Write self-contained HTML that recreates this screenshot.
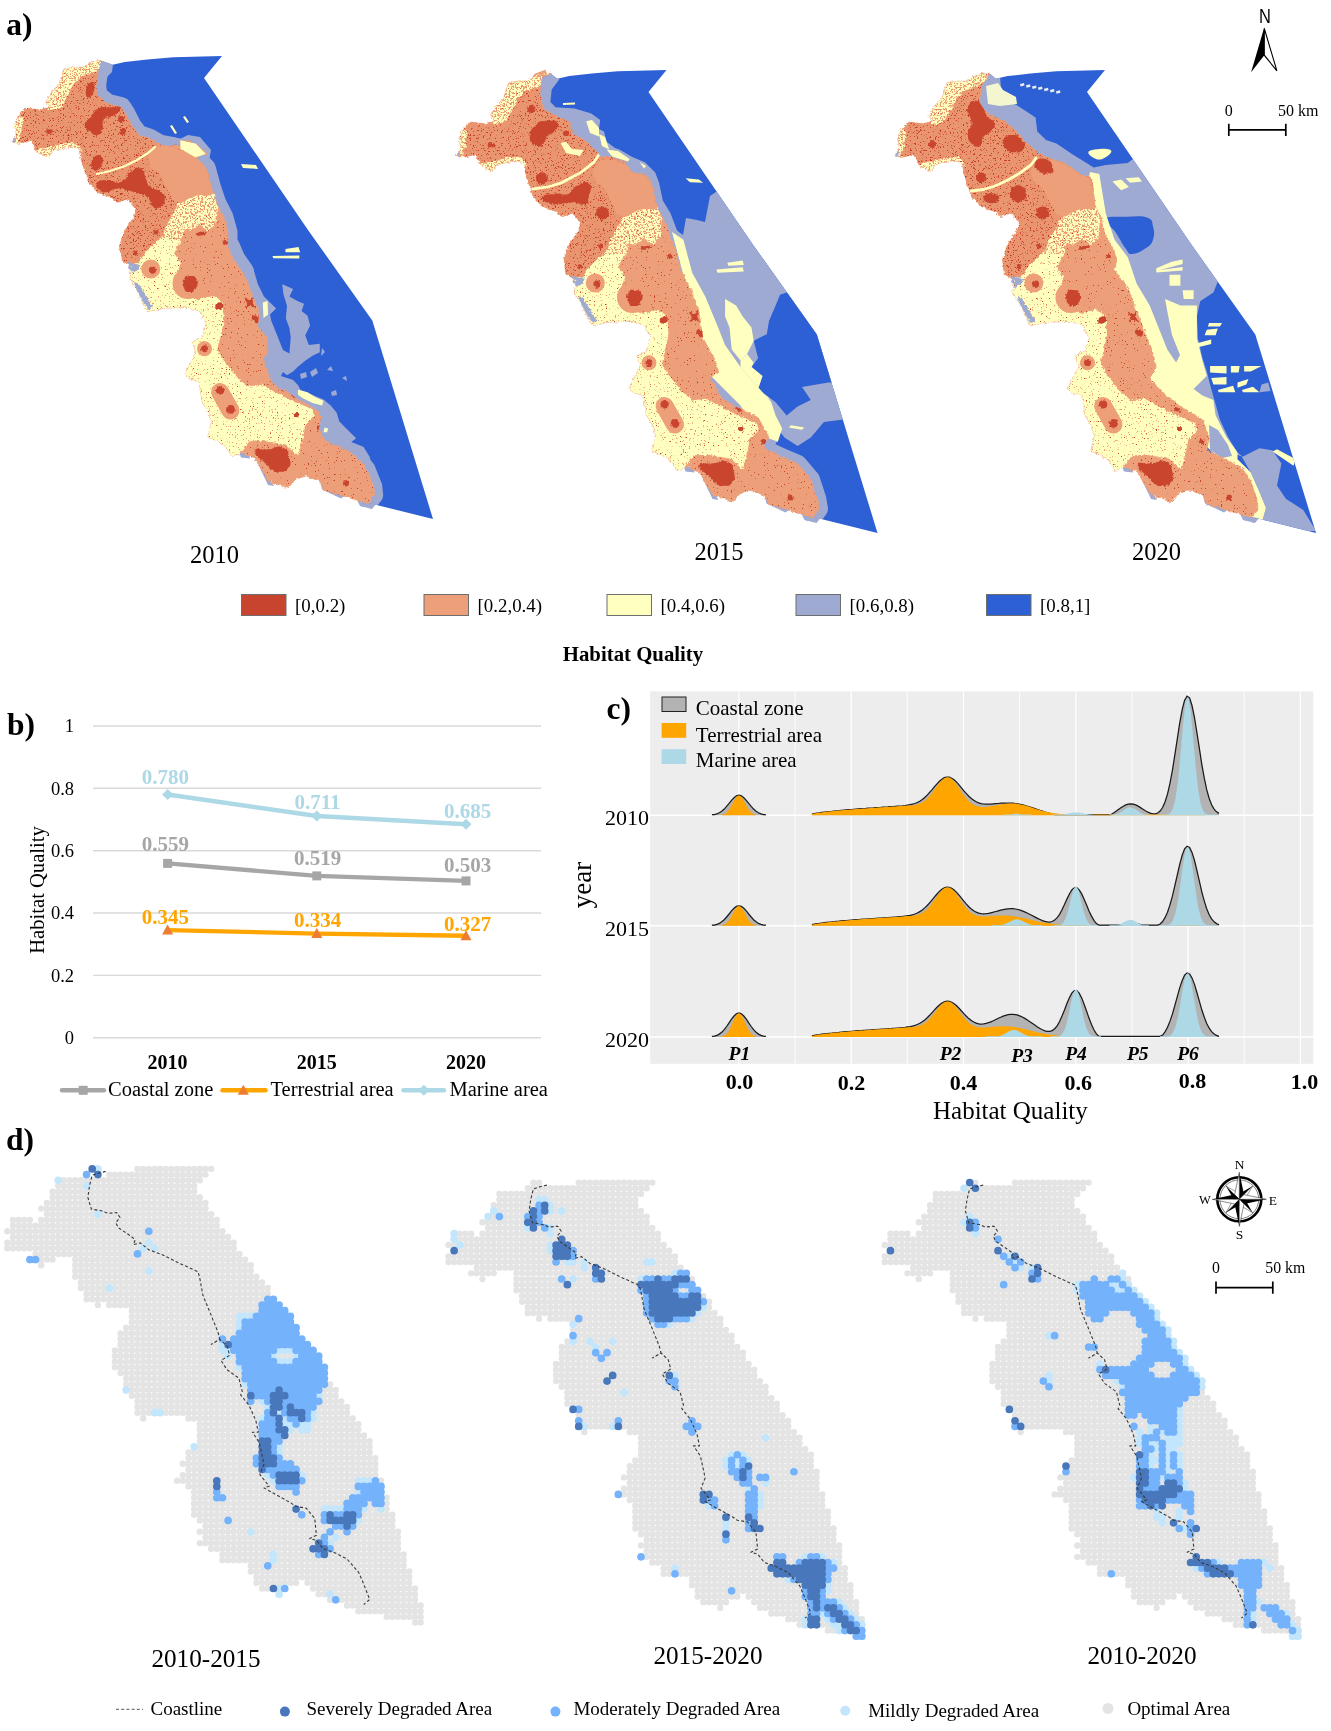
<!DOCTYPE html>
<html><head><meta charset="utf-8"><title>Habitat Quality</title>
<style>
html,body{margin:0;padding:0;background:#fff;}
body{width:1331px;height:1731px;overflow:hidden;font-family:"Liberation Serif",serif;}
svg{display:block;font-family:"Liberation Serif",serif;}
</style></head><body>
<svg width="1331" height="1731" viewBox="0 0 1331 1731">
<defs>
<filter id="spkD" x="0" y="0" width="100%" height="100%" color-interpolation-filters="sRGB"><feTurbulence type="fractalNoise" baseFrequency="0.6" numOctaves="2" seed="7"/><feColorMatrix type="matrix" values="0 0 0 0 0.78  0 0 0 0 0.25  0 0 0 0 0.17  16 0 0 0 -10.3"/></filter>
<filter id="spkS" x="0" y="0" width="100%" height="100%" color-interpolation-filters="sRGB"><feTurbulence type="fractalNoise" baseFrequency="0.7" numOctaves="2" seed="11"/><feColorMatrix type="matrix" values="0 0 0 0 0.78  0 0 0 0 0.25  0 0 0 0 0.17  20 0 0 0 -14.3"/></filter>
<filter id="spkO" x="0" y="0" width="100%" height="100%" color-interpolation-filters="sRGB"><feTurbulence type="fractalNoise" baseFrequency="0.65" numOctaves="2" seed="23"/><feColorMatrix type="matrix" values="0 0 0 0 0.92  0 0 0 0 0.6  0 0 0 0 0.45  14 0 0 0 -9.4"/></filter>
<filter id="spkO2" x="0" y="0" width="100%" height="100%" color-interpolation-filters="sRGB"><feTurbulence type="fractalNoise" baseFrequency="0.55" numOctaves="2" seed="5"/><feColorMatrix type="matrix" values="0 0 0 0 0.92  0 0 0 0 0.6  0 0 0 0 0.45  12 0 0 0 -6.3"/></filter>
<filter id="spkR" x="0" y="0" width="100%" height="100%" color-interpolation-filters="sRGB"><feTurbulence type="fractalNoise" baseFrequency="0.75" numOctaves="2" seed="41"/><feColorMatrix type="matrix" values="0 0 0 0 0.78  0 0 0 0 0.25  0 0 0 0 0.17  22 0 0 0 -16.6"/></filter>
<filter id="rough2" x="-5%" y="-5%" width="110%" height="110%"><feTurbulence type="fractalNoise" baseFrequency="0.5" numOctaves="2" seed="9" result="t"/><feDisplacementMap in="SourceGraphic" in2="t" scale="3.2" xChannelSelector="R" yChannelSelector="G"/></filter>
<filter id="rough" x="-5%" y="-5%" width="110%" height="110%"><feTurbulence type="fractalNoise" baseFrequency="0.35" numOctaves="2" seed="3" result="t"/><feDisplacementMap in="SourceGraphic" in2="t" scale="4" xChannelSelector="R" yChannelSelector="G"/></filter>
</defs>
<defs><clipPath id="lc1"><polygon points="100.5,60.4 97.9,72.5 96.2,84.7 97.1,95.1 107.5,103.7 121.3,107.2 125.6,114.1 131.7,126.3 138.6,134.9 149,138.4 159.4,144.5 173.3,147.1 180.2,148.8 180.2,140.1 195.8,143.6 206.2,154 195.8,157.5 206.2,167.9 211.4,186.9 216.6,202.5 223.6,216.4 228,232 228,247 233.6,260 242.1,272.1 248.2,284.3 254.3,300 259.1,312.2 257.9,325.5 266.4,337.6 267.6,352.2 262.8,360.7 266.4,369.2 271.2,381.3 278.5,388.6 288.2,392.2 297.9,399.5 308.8,405.6 317.3,410.4 322.2,416.5 318.5,429.8 324.6,439.5 330.7,444.4 339.2,446.8 351.3,452.9 358.6,458.9 366.9,469.2 373.8,486.5 374.7,495.2 368.6,503 368.6,503 358.2,500.4 340.9,495.2 323.6,490 320.1,481.3 306.3,476.1 296.4,478.8 287.7,488.3 279,484 268.6,481.4 261.7,470.1 254.8,458 242.7,452.8 232.3,456.2 225.3,445.8 216.7,440.6 208,437.2 211.5,421.6 208,411.2 201.9,400.8 199.3,381.7 188.9,378.2 184.6,374.8 190.7,362.7 195.9,352.3 192.4,341.9 202.8,336.7 206.3,322.8 199.3,310.7 187.2,307.2 164.7,308.1 147.3,311.5 142.1,300.3 136.9,289.9 130,278.8 131.7,266.6 121.3,259.7 119.6,245.8 124.8,230.2 133.4,218.1 136.9,209.4 128.2,199 117.9,202.5 110.9,197.3 97.1,192.1 88.4,181.7 84.9,171.3 81.5,160.9 78.9,147.9 69.3,147.1 52,150.5 48.5,157.5 37.3,152.3 31.2,140.1 19.1,143.6 12.1,141.9 16.5,133.2 14.7,124.5 18.2,115.9 26,108.1 39.9,109.8 50.3,107.2 45.9,102 52,91.6 58.9,84.7 64.1,69.1 74.5,67.3 83.2,67.3 91.9,62.1 100.5,60.4"/></clipPath><clipPath id="sc1"><polygon points="100.5,60.4 112.7,64.7 124.8,62.1 147.3,59.5 173.3,57.3 222,56 204,78 308,230 372.3,320.5 433,519 368.6,503 361.6,507 367.7,499.2 366.8,490.5 359.9,473.2 351.6,462.9 344.3,456.9 332.2,450.8 323.7,448.4 317.6,443.5 311.5,433.8 315.2,420.5 310.3,414.4 301.8,409.6 290.9,403.5 281.2,396.2 271.5,392.6 264.2,385.3 259.4,373.2 255.8,364.7 260.6,356.2 259.4,341.6 250.9,329.5 252.1,316.2 247.3,304 241.2,288.3 235.1,276.1 226.6,264 221,251 221,236 216.6,220.4 209.6,206.5 204.4,190.9 199.2,171.9 188.8,161.5 199.2,158 188.8,147.6 173.2,144.1 173.2,152.8 166.3,151.1 152.4,148.5 142,142.4 131.6,138.9 124.7,130.3 118.6,118.1 114.3,111.2 100.5,107.7 90.1,99.1 89.2,88.7 90.9,76.5 93.5,64.4"/></clipPath>
<clipPath id="yc1"><polygon points="213.2,193.8 216.6,206 214.9,223.3 208,230.2 199.3,223.3 190.6,230.2 183.7,228.5 180.2,240.6 173.3,252.8 180.2,263.2 176,275 178,295 199.3,300.3 213.2,296.1 221.9,302 223.6,319.3 220.1,336.7 216.7,350.5 223.6,360.9 237.5,378.2 247.9,386.9 261.7,385.2 277.3,393.8 294.6,402.5 312,409.4 313.7,416.4 305,425 301.6,440.6 298.1,454.5 286,444.1 265.2,440.6 249.6,440.6 240.9,451 235,462 225,452 214,445 203,440 205,421.6 202,411.2 196,400.8 193,385 183,381 178,375 185,362.7 189,352.3 186,340 196,334 200,322.8 195,314 187.2,312 164.7,314 143,317 136,300.3 131,289.9 124,278.8 125,266.6 128.2,264.9 138.6,263.2 145.6,252.8 152.5,245.8 162.9,237.2 166.4,226.8 173.3,214.6 178.5,204.2 190.6,197.3 204.5,192.1"/><polygon points="104,60 104,63.9 93.6,72.5 81.5,76 72.8,84.7 67.6,95.1 60.7,107.2 52,110 42,104 48,91.6 55,84.7 60,66 74.5,63 83.2,63 91.9,58"/><polygon points="18.2,113 22.5,119.3 20.8,131.5 17.3,140.1 22,146 8,146 10,133 10,124.5"/><polygon points="33,152.3 48.5,161 55,154 69.3,151 82,151 76.3,143.6 65.9,143.6 52,147.1 43.3,148.8"/></clipPath></defs>
<polyline points="97.5,62.4 94.9,74.5 93.2,86.7 94.1,97.1 104.5,105.7 118.3,109.2 122.6,116.1 128.7,128.3 135.6,136.9 146,140.4 156.4,146.5 170.3,149.1 177.2,150.8 177.2,142.1 192.8,145.6 203.2,156 192.8,159.5 203.2,169.9 208.4,188.9 213.6,204.5 220.6,218.4 225,234 225,249 230.6,262 239.1,274.1 245.2,286.3 251.3,302 256.1,314.2 254.9,327.5 263.4,339.6 264.6,354.2 259.8,362.7 263.4,371.2 268.2,383.3 275.5,390.6 285.2,394.2 294.9,401.5 305.8,407.6 314.3,412.4 319.2,418.5 315.5,431.8 321.6,441.5 327.7,446.4 336.2,448.8 348.3,454.9 355.6,460.9 363.9,471.2 370.8,488.5 371.7,497.2 365.6,505" fill="none" stroke="#ec9f78" stroke-width="12" stroke-linejoin="round"/>
<polygon points="100.5,60.4 112.7,64.7 124.8,62.1 147.3,59.5 173.3,57.3 222,56 204,78 308,230 372.3,320.5 433,519 368.6,503 361.6,507 367.7,499.2 366.8,490.5 359.9,473.2 351.6,462.9 344.3,456.9 332.2,450.8 323.7,448.4 317.6,443.5 311.5,433.8 315.2,420.5 310.3,414.4 301.8,409.6 290.9,403.5 281.2,396.2 271.5,392.6 264.2,385.3 259.4,373.2 255.8,364.7 260.6,356.2 259.4,341.6 250.9,329.5 252.1,316.2 247.3,304 241.2,288.3 235.1,276.1 226.6,264 221,251 221,236 216.6,220.4 209.6,206.5 204.4,190.9 199.2,171.9 188.8,161.5 199.2,158 188.8,147.6 173.2,144.1 173.2,152.8 166.3,151.1 152.4,148.5 142,142.4 131.6,138.9 124.7,130.3 118.6,118.1 114.3,111.2 100.5,107.7 90.1,99.1 89.2,88.7 90.9,76.5 93.5,64.4" fill="#2d60d4" />
<g clip-path="url(#sc1)">
<polyline points="100.5,60.4 97.9,72.5 96.2,84.7 97.1,95.1 107.5,103.7 121.3,107.2 125.6,114.1 131.7,126.3 138.6,134.9 149,138.4 159.4,144.5 173.3,147.1 180.2,148.8" fill="none" stroke="#9eaad2" stroke-width="20" stroke-linejoin="round" stroke-linecap="round"/>
<polygon points="100,58 113,64 112,72 104,80 104,96 96,96 94,70" fill="#9eaad2" />
<polyline points="195.8,157.5 206.2,167.9 211.4,186.9 216.6,202.5 223.6,216.4 228,232 228,247" fill="none" stroke="#9eaad2" stroke-width="19" stroke-linejoin="round" stroke-linecap="round"/>
<polyline points="228,247 233.6,260 242.1,272.1" fill="none" stroke="#9eaad2" stroke-width="24" stroke-linejoin="round" stroke-linecap="round"/>
<polyline points="351.3,452.9 358.6,458.9 366.9,469.2 373.8,486.5 374.7,495.2 368.6,503" fill="none" stroke="#9eaad2" stroke-width="17" stroke-linejoin="round" stroke-linecap="round"/>
<polygon points="240,250 245.8,258 254.3,272.1 257.9,284.3 264,296.4 268.8,301.2 276.1,308.5 270,314.6 271.2,320.6 275,330 279,340 283,350 289.4,353.4 290.7,337.6 289.4,327.9 285.8,318.2 287,306.1 283.4,294 282.2,284.3 293.1,289.1 289.4,296.4 297.9,301.2 304,303.7 301.6,310.9 307.6,315.8 310.1,325.5 305.2,335.2 308.8,344.9 319.8,343.7 319.8,352.2 312.5,355.8 305.2,360.7 297.9,366.7 293.1,371.6 287,375.2 283,372 281,376 293.1,380.1 297.9,384.9 300.4,389.8 323.4,399.5 330.7,405.6 336.7,412.8 339.2,421.3 345.2,427.4 356.2,438.3 351.3,441.9 363.4,446.8 369.5,456.5 371.9,466.2 350,460 320,440 300,410 260,380 250,330 230,270" fill="#9eaad2" />
<polygon points="300,352 304,356 299,360 296,357" fill="#9eaad2" />
<polygon points="322,348 325,352 321,356" fill="#9eaad2" />
<polygon points="310,372 316,368 318,373 312,377" fill="#9eaad2" />
<polygon points="327,370 331,366 333,371" fill="#9eaad2" />
<polygon points="300,374 306,372 307,377 301,379" fill="#9eaad2" />
<polygon points="342,378 346,376 347,381" fill="#9eaad2" />
<polygon points="331,392 336,390 337,395 332,396" fill="#9eaad2" />
<polygon points="180,139 188,135 200,137 211,150 209,161 198,163" fill="#9eaad2" />
<polygon points="285.5,249 298.5,247 300.2,252.2 285.5,252.2" fill="#ffffbf" />
<polygon points="272.5,256 299.3,255.6 299.3,258.6 273.3,258.2" fill="#ffffbf" />
<polygon points="241,164 256,165 258,169 243,168" fill="#ffffbf" />
<polygon points="297.9,389.8 307.6,392.2 314.9,397.1 323.4,400.7 322.2,405.6 312.5,403.1 302.8,398.3 297.9,394.7" fill="#ffffbf" />
<polygon points="262.8,302.5 267.6,301 268,314.6 263.5,318" fill="#ffffbf" />
<polygon points="324.6,427.4 328.3,428.6 327,432.2 323.4,432.2" fill="#ffffbf" />
<polygon points="183,117 185,116 189,122 187,123" fill="#ffffbf" />
<polygon points="170,126 172,125 177,133 175,134" fill="#ffffbf" />
</g>
<polygon points="239,452 249,454 250,458.5 241,457.5" fill="#9eaad2" />
<polygon points="258,464 263,467 271,481 274,486 268,485" fill="#9eaad2" />
<polygon points="320,481 327,483 345,495.5 341,498.5 322,489.5" fill="#9eaad2" />
<polygon points="356,498 366,503 376,504 372,509 360,506" fill="#9eaad2" />
<polygon points="130,262 128,268 133,272" fill="#9eaad2" />
<g filter="url(#rough)">
<polygon points="100.5,60.4 97.9,72.5 96.2,84.7 97.1,95.1 107.5,103.7 121.3,107.2 125.6,114.1 131.7,126.3 138.6,134.9 149,138.4 159.4,144.5 173.3,147.1 180.2,148.8 180.2,140.1 195.8,143.6 206.2,154 195.8,157.5 206.2,167.9 211.4,186.9 216.6,202.5 223.6,216.4 228,232 228,247 233.6,260 242.1,272.1 248.2,284.3 254.3,300 259.1,312.2 257.9,325.5 266.4,337.6 267.6,352.2 262.8,360.7 266.4,369.2 271.2,381.3 278.5,388.6 288.2,392.2 297.9,399.5 308.8,405.6 317.3,410.4 322.2,416.5 318.5,429.8 324.6,439.5 330.7,444.4 339.2,446.8 351.3,452.9 358.6,458.9 366.9,469.2 373.8,486.5 374.7,495.2 368.6,503 368.6,503 358.2,500.4 340.9,495.2 323.6,490 320.1,481.3 306.3,476.1 296.4,478.8 287.7,488.3 279,484 268.6,481.4 261.7,470.1 254.8,458 242.7,452.8 232.3,456.2 225.3,445.8 216.7,440.6 208,437.2 211.5,421.6 208,411.2 201.9,400.8 199.3,381.7 188.9,378.2 184.6,374.8 190.7,362.7 195.9,352.3 192.4,341.9 202.8,336.7 206.3,322.8 199.3,310.7 187.2,307.2 164.7,308.1 147.3,311.5 142.1,300.3 136.9,289.9 130,278.8 131.7,266.6 121.3,259.7 119.6,245.8 124.8,230.2 133.4,218.1 136.9,209.4 128.2,199 117.9,202.5 110.9,197.3 97.1,192.1 88.4,181.7 84.9,171.3 81.5,160.9 78.9,147.9 69.3,147.1 52,150.5 48.5,157.5 37.3,152.3 31.2,140.1 19.1,143.6 12.1,141.9 16.5,133.2 14.7,124.5 18.2,115.9 26,108.1 39.9,109.8 50.3,107.2 45.9,102 52,91.6 58.9,84.7 64.1,69.1 74.5,67.3 83.2,67.3 91.9,62.1 100.5,60.4" fill="#ec9f78" stroke="#ec9f78" stroke-width="0.8" stroke-linejoin="round"/>
<g clip-path="url(#lc1)">
<polygon points="0,50 240,50 240,185 205,192 180,203 167,226 150,248 128,266 110,270 0,270" fill="#e9966f" />
<path d="M110 225C126.7 206.7 140.7 206.7 160 215C179.3 223.3 171.3 230 168 250C164.7 270 162.7 258.3 150 275C137.3 291.7 143.3 301.7 130 300C116.7 298.3 116.7 295 110 270C103.3 245 93.3 243.3 110 225Z" fill="#e9966f" />
</g></g>
<defs><clipPath id="nc1"><polygon points="0,50 240,50 240,185 205,192 180,203 167,226 150,248 128,266 110,270 0,270"/></clipPath></defs>
<g clip-path="url(#lc1)">
<rect x="5" y="50" width="380" height="470" filter="url(#spkS)"/>
<g clip-path="url(#nc1)"><rect x="5" y="50" width="240" height="230" filter="url(#spkD)"/></g>
</g>
<g filter="url(#rough)"><g clip-path="url(#lc1)">
<polygon points="213.2,193.8 216.6,206 214.9,223.3 208,230.2 199.3,223.3 190.6,230.2 183.7,228.5 180.2,240.6 173.3,252.8 180.2,263.2 176,275 178,295 199.3,300.3 213.2,296.1 221.9,302 223.6,319.3 220.1,336.7 216.7,350.5 223.6,360.9 237.5,378.2 247.9,386.9 261.7,385.2 277.3,393.8 294.6,402.5 312,409.4 313.7,416.4 305,425 301.6,440.6 298.1,454.5 286,444.1 265.2,440.6 249.6,440.6 240.9,451 235,462 225,452 214,445 203,440 205,421.6 202,411.2 196,400.8 193,385 183,381 178,375 185,362.7 189,352.3 186,340 196,334 200,322.8 195,314 187.2,312 164.7,314 143,317 136,300.3 131,289.9 124,278.8 125,266.6 128.2,264.9 138.6,263.2 145.6,252.8 152.5,245.8 162.9,237.2 166.4,226.8 173.3,214.6 178.5,204.2 190.6,197.3 204.5,192.1" fill="#ffffbf" stroke="#ffffbf" stroke-width="1" stroke-linejoin="round"/>
<polygon points="104,60 104,63.9 93.6,72.5 81.5,76 72.8,84.7 67.6,95.1 60.7,107.2 52,110 42,104 48,91.6 55,84.7 60,66 74.5,63 83.2,63 91.9,58" fill="#ffffbf" stroke="#ffffbf" stroke-width="1" stroke-linejoin="round"/>
<polygon points="18.2,113 22.5,119.3 20.8,131.5 17.3,140.1 22,146 8,146 10,133 10,124.5" fill="#ffffbf" stroke="#ffffbf" stroke-width="1" stroke-linejoin="round"/>
<polygon points="33,152.3 48.5,161 55,154 69.3,151 82,151 76.3,143.6 65.9,143.6 52,147.1 43.3,148.8" fill="#ffffbf" stroke="#ffffbf" stroke-width="1" stroke-linejoin="round"/>
</g></g>
<g clip-path="url(#lc1)">
<g clip-path="url(#yc1)"><rect x="5" y="50" width="230" height="190" filter="url(#spkO2)"/></g>
<g clip-path="url(#yc1)"><rect x="5" y="50" width="380" height="470" filter="url(#spkO)"/><rect x="5" y="50" width="380" height="470" filter="url(#spkR)"/></g>
<path d="M152 150C157 143.7 155.7 146 165 146C174.3 146 168.3 145.3 180 150C191.7 154.7 190 151.7 200 160C210 168.3 205.3 164.3 210 175C214.7 185.7 219 185 214 192C209 199 207 192.7 195 196C183 199.3 187 204 178 202C169 200 174 199 168 190C162 181 166 183.3 160 175C154 166.7 152.7 173.3 150 165C147.3 156.7 147 156.3 152 150Z" fill="#ec9f78" />
<circle cx="188" cy="283.5" r="15.5" fill="#ec9f78"/>
<circle cx="150.8" cy="269" r="9.5" fill="#ec9f78"/>
<circle cx="204.5" cy="348.8" r="7.5" fill="#ec9f78"/>
<line x1="220.1" y1="392.1" x2="230.5" y2="410.5" stroke="#ec9f78" stroke-width="18" stroke-linecap="round"/>
<g filter="url(#rough)"><polygon points="127,262 140,265 138,270 132,273" fill="#9eaad2" /><polygon points="134,282 139,284 142,290 147,298 153,307 148,309 140,297 136,289" fill="#9eaad2" /><polygon points="196,453 206,458 214,470 207,468" fill="#9eaad2" /><polygon points="12,138 16,137 15,144 11,144" fill="#9eaad2" /></g>
<polygon points="180.2,148.8 180.2,140.1 195.8,143.6 206.2,154 195.8,157.5" fill="#ffffbf" />
<polyline points="97,174 110,171 125,166 137,160 148,153 155,147" fill="none" stroke="#ffffbf" stroke-width="2.2" stroke-linecap="round"/>
<g filter="url(#rough2)">
<circle cx="156" cy="232" r="2.5" fill="#c9442f"/>
<circle cx="135.2" cy="252.8" r="2.5" fill="#c9442f"/>
<circle cx="152.5" cy="270.1" r="3.6" fill="#c9442f"/>
<path d="M184 279C186 275 185.7 275.7 190 276C194.3 276.3 195 276 197 280C199 284 198.3 284 196 288C193.7 292 194 292 190 292C186 292 186 292.3 184 288C182 283.7 182 283 184 279Z" fill="#c9442f" />
<ellipse cx="201" cy="233.7" rx="6" ry="1.8" fill="#c9442f" transform="rotate(-10 201 233.7)"/>
<circle cx="225.3" cy="242.4" r="2.5" fill="#c9442f"/>
<circle cx="218.4" cy="306.5" r="3.2" fill="#c9442f"/>
<path d="M245 298C246 297 247 300.7 250 300C253 299.3 253 295 254 296C255 297 252.3 299 253 303C253.7 307 257 307 256 308C255 309 253.3 306 250 306C246.7 306 247 309 246 308C245 307 247.3 306.3 247 303C246.7 299.7 244 299 245 298Z" fill="#c9442f" />
<path d="M252 317C253 315.3 254.3 315.3 257 316C259.7 316.7 260 316.7 260 319C260 321.3 259 322.3 257 323C255 323.7 255.7 323 254 321C252.3 319 251 318.7 252 317Z" fill="#c9442f" />
<circle cx="220.1" cy="305.5" r="3.2" fill="#c9442f"/>
<circle cx="204.5" cy="348.8" r="3.5" fill="#c9442f"/>
<circle cx="220.1" cy="390.4" r="4.2" fill="#c9442f"/>
<circle cx="230.5" cy="409.4" r="4.4" fill="#c9442f"/>
<circle cx="296.4" cy="414.6" r="2.6" fill="#c9442f"/>
<circle cx="318.9" cy="427.6" r="2.6" fill="#c9442f"/>
<circle cx="346" cy="483.5" r="3" fill="#c9442f"/>
<ellipse cx="294.1" cy="395.5" rx="3.5" ry="1.8" fill="#c9442f" transform="rotate(30 294.1 395.5)"/>
<path d="M254.8 451C255.9 446.4 259.4 450.4 268.6 449.3C277.8 448.2 275.6 444.7 282.5 447.6C289.4 450.5 287.7 451.1 289.4 458C291.1 464.9 291.2 463.8 287.7 468.4C284.2 473 284.2 471.2 279 471.8C273.8 472.4 276.7 473 272.1 470.1C267.5 467.2 271 469.6 265.2 463.2C259.4 456.8 253.7 455.6 254.8 451Z" fill="#c9442f" />
<ellipse cx="90.1" cy="89.9" rx="4" ry="8" fill="#c9442f" transform="rotate(15 90.1 89.9)"/>
<ellipse cx="49.4" cy="131.5" rx="4.5" ry="2.2" fill="#c9442f"/>
<path d="M84.9 124.5C85.5 119.3 87.8 121.1 91.9 115.9C96 110.7 90.8 111.8 97.1 108.9C103.4 106 102.8 107.5 110.9 107.2C119 106.9 120.7 105.1 121.3 108C121.9 110.9 118.5 112.1 112.7 115.9C106.9 119.7 107.5 114.7 104 119.3C100.5 123.9 104.6 124.5 102.3 129.7C100 134.9 101.2 134.3 97.1 134.9C93 135.5 94.2 135 90.1 131.5C86 128 84.3 129.7 84.9 124.5Z" fill="#c9442f" />
<circle cx="121.3" cy="119.3" r="3.2" fill="#c9442f"/>
<circle cx="123" cy="131.5" r="3.2" fill="#c9442f"/>
<ellipse cx="97.1" cy="162.7" rx="5.5" ry="8" fill="#c9442f" transform="rotate(20 97.1 162.7)"/>
<path d="M97.1 183.4C99.4 179.9 99.4 180.6 107.5 180C115.6 179.4 113.2 184.6 121.3 181.7C129.4 178.8 124.8 175.3 131.7 171.3C138.6 167.3 137.5 167.3 142.1 169.6C146.7 171.9 142.7 172.4 145.6 178.2C148.5 184 145.6 182.3 150.8 186.9C156 191.5 156.6 187.5 161.2 192.1C165.8 196.7 165.2 195.6 164.6 200.8C164 206 163.4 206 159.4 207.7C155.4 209.4 156.5 209.5 152.5 206C148.5 202.5 151.9 201.4 147.3 197.3C142.7 193.2 145 196.1 138.6 193.8C132.2 191.5 135.1 192.1 128.2 190.4C121.3 188.7 124.8 188 117.9 188.6C111 189.2 113.3 191.5 107.5 192.1C101.7 192.7 104 193.3 100.5 190.4C97 187.5 94.8 186.9 97.1 183.4Z" fill="#c9442f" />
</g>
</g>
<defs><clipPath id="lc2"><polygon points="550.5,73.4 541.5,76.6 540.2,91.9 542.8,108.5 555.5,116.2 568.3,121.3 573.4,134 586.2,141.7 596.4,152 601.5,157 611.7,157 624.5,162.2 632.2,172.4 644.9,174.9 651.3,182.6 655.2,200.5 660.3,213.3 667.9,228.6 670.5,238.8 675.3,249.3 681.2,270.5 690,288.1 698.8,312.2 703.2,338.6 714.2,358.3 718.6,371.5 709.8,378.1 722.9,400 740.5,408.8 758.1,417.6 769,437.4 762.5,448.3 782.2,457.1 797.6,463.7 810.8,479.1 817.3,498.8 819,509 813.1,517 813.1,517 802.7,514.4 785.4,509.2 768.1,504 764.6,495.3 750.8,490.1 740.9,492.8 732.2,502.3 723.5,498 713.1,495.4 706.2,484.1 699.3,472 687.2,466.8 676.8,470.2 669.8,459.8 661.2,454.6 652.5,451.2 656,435.6 652.5,425.2 646.4,414.8 643.8,395.7 633.4,392.2 629.1,388.8 635.2,376.7 640.4,366.3 636.9,355.9 647.3,350.7 650.8,336.8 643.8,324.7 631.7,321.2 609.2,322.1 591.8,325.5 586.6,314.3 581.4,303.9 574.5,292.8 576.2,280.6 565.8,273.7 564.1,259.8 569.3,244.2 577.9,232.1 581.4,223.4 572.7,213 562.4,216.5 555.4,211.3 541.6,206.1 532.9,195.7 529.4,185.3 526,174.9 523.4,161.9 513.8,161.1 496.5,164.5 493,171.5 481.8,166.3 475.7,154.1 463.6,157.6 456.6,155.9 461,147.2 459.2,138.5 462.7,129.9 470.5,122.1 484.4,123.8 494.8,121.2 490.4,116 496.5,105.6 503.4,98.7 508.6,83.1 519,81.3 527.7,81.3 536.4,76.1 545,74.4"/></clipPath><clipPath id="sc2"><polygon points="550.5,73.4 557.2,78.7 569.3,76.1 591.8,73.5 617.8,71.3 666.5,70 648.5,92 752.5,244 816.8,334.5 877.5,533 813.1,517 806.1,521 812,513 810.3,502.8 803.8,483.1 790.6,467.7 775.2,461.1 755.5,452.3 762,441.4 751.1,421.6 733.5,412.8 715.9,404 702.8,382.1 711.6,375.5 707.2,362.3 696.2,342.6 691.8,316.2 683,292.1 674.2,274.5 668.3,253.3 663.5,242.8 660.9,232.6 653.3,217.3 648.2,204.5 644.3,186.6 637.9,178.9 625.2,176.4 617.5,166.2 604.7,161 594.5,161 589.4,156 579.2,145.7 566.4,138 561.3,125.3 548.5,120.2 535.8,112.5 533.2,95.9 534.5,80.6 543.5,77.4"/></clipPath>
<clipPath id="yc2"><polygon points="657.7,207.8 661.1,220 659.4,237.3 652.5,244.2 643.8,237.3 635.1,244.2 628.2,242.5 624.7,254.6 617.8,266.8 624.7,277.2 620.5,289 622.5,309 643.8,314.3 657.7,310.1 666.4,316 668.1,333.3 664.6,350.7 661.2,364.5 668.1,374.9 682,392.2 692.4,400.9 706.2,399.2 721.8,407.8 739.1,416.5 756.5,423.4 758.2,430.4 749.5,439 746.1,454.6 742.6,468.5 730.5,458.1 709.7,454.6 694.1,454.6 685.4,465 679.5,476 669.5,466 658.5,459 647.5,454 649.5,435.6 646.5,425.2 640.5,414.8 637.5,399 627.5,395 622.5,389 629.5,376.7 633.5,366.3 630.5,354 640.5,348 644.5,336.8 639.5,328 631.7,326 609.2,328 587.5,331 580.5,314.3 575.5,303.9 568.5,292.8 569.5,280.6 572.7,278.9 583.1,277.2 590.1,266.8 597,259.8 607.4,251.2 610.9,240.8 617.8,228.6 623,218.2 635.1,211.3 649,206.1"/><polygon points="548.5,74 548.5,77.9 538.1,86.5 526,90 517.3,98.7 512.1,109.1 505.2,121.2 496.5,124 486.5,118 492.5,105.6 499.5,98.7 504.5,80 519,77 527.7,77 536.4,72"/><polygon points="462.7,127 467,133.3 465.3,145.5 461.8,154.1 466.5,160 452.5,160 454.5,147 454.5,138.5"/><polygon points="477.5,166.3 493,175 499.5,168 513.8,165 526.5,165 520.8,157.6 510.4,157.6 496.5,161.1 487.8,162.8"/></clipPath></defs>
<polyline points="547.5,75.4 538.5,78.6 537.2,93.9 539.8,110.5 552.5,118.2 565.3,123.3 570.4,136 583.2,143.7 593.4,154 598.5,159 608.7,159 621.5,164.2 629.2,174.4 641.9,176.9 648.3,184.6 652.2,202.5 657.3,215.3 664.9,230.6 667.5,240.8 672.3,251.3 678.2,272.5 687,290.1 695.8,314.2 700.2,340.6 711.2,360.3 715.6,373.5 706.8,380.1 719.9,402 737.5,410.8 755.1,419.6 766,439.4 759.5,450.3 779.2,459.1 794.6,465.7 807.8,481.1 814.3,500.8 816,511 810.1,519" fill="none" stroke="#ec9f78" stroke-width="12" stroke-linejoin="round"/>
<polygon points="550.5,73.4 557.2,78.7 569.3,76.1 591.8,73.5 617.8,71.3 666.5,70 648.5,92 752.5,244 816.8,334.5 877.5,533 813.1,517 806.1,521 812,513 810.3,502.8 803.8,483.1 790.6,467.7 775.2,461.1 755.5,452.3 762,441.4 751.1,421.6 733.5,412.8 715.9,404 702.8,382.1 711.6,375.5 707.2,362.3 696.2,342.6 691.8,316.2 683,292.1 674.2,274.5 668.3,253.3 663.5,242.8 660.9,232.6 653.3,217.3 648.2,204.5 644.3,186.6 637.9,178.9 625.2,176.4 617.5,166.2 604.7,161 594.5,161 589.4,156 579.2,145.7 566.4,138 561.3,125.3 548.5,120.2 535.8,112.5 533.2,95.9 534.5,80.6 543.5,77.4" fill="#2d60d4" />
<g clip-path="url(#sc2)">
<polygon points="548,70 559.4,79.2 551.7,89.4 550.4,102.1 555.5,107.3 574.7,108.5 591.3,113.6 600.2,120 599,129 604,131.5 606.6,141.7 615,148 619.4,149.4 632.2,157 644.9,162.2 655.2,172.4 659,182.6 662.8,200.5 670.5,213.3 676.9,229.9 683.4,239.8 660,240 600,170 540,120 536,80" fill="#9eaad2" />
<polygon points="660,215 672,227 683,235 686,218 697,220 705,222 710,196 716,192 800,192 860,300 860,420 841.5,419.8 823.9,422 810.8,437.4 797.6,446.1 784.4,437.4 775,425 740,400 700,380 660,300" fill="#9eaad2" />
<polygon points="786.6,292.5 830,292 845,382 828.3,382.5 802,386.9 810.8,400 797.6,406.6 786.6,415.4 775.6,402.2 758.1,389.1 762.5,375.9 751.5,367.1 758.1,358.3 753.7,340.8 766.8,334.2 769,321 775.6,305.6 780,294.7" fill="#2d60d4" />
<polyline points="709.8,378.1 722.9,400 740.5,408.8 758.1,417.6 769,437.4 762.5,448.3 782.2,457.1 797.6,463.7 810.8,479.1 817.3,498.8 819,509 813.1,517" fill="none" stroke="#9eaad2" stroke-width="18" stroke-linejoin="round" stroke-linecap="round"/>
<polygon points="672,232 683.4,239.8 692.2,272.7 705.4,296.8 716.4,323.2 725.1,345.1 740.5,367.1 753.7,382.5 771.2,402.2 775.6,415.4 782.2,428.6 777.8,441.7 760,435 740,405 705,370 690,300" fill="#ffffbf" />
<polygon points="740.5,360.5 747.1,353.9 753.7,362.7 751.5,367.1 762.5,375.9 758.1,389.1 768,397 771.2,402.2 753.7,382.5 740.5,367.1" fill="#ffffbf" />
<polygon points="725.1,299 736.1,305.6 742.7,316.6 751.5,327.6 753.7,340.8 747.1,353.9 740.5,360.5 731.7,349.5 729.5,327.6 725.1,316.6" fill="#ffffbf" />
<polygon points="586.2,121.3 592,120 599,128 599,136.6 590,133" fill="#ffffbf" />
<polygon points="599,134 605,137 609.2,149.4 602,146" fill="#ffffbf" />
<polygon points="606.6,149.4 618,151 629.6,159 628,161.5 612,156.5" fill="#ffffbf" />
<polygon points="639.8,162.2 646.2,166 644,168.6" fill="#ffffbf" />
<polygon points="563,103 575,102.5 575,104.5 563,105" fill="#ffffbf" />
<polygon points="716.4,269.4 742.7,267.2 743.8,271.6 717.5,272.7" fill="#ffffbf" />
<polygon points="727.3,262.8 742.7,260.6 743.8,265 728.4,265.7" fill="#ffffbf" />
<polygon points="685.6,178.3 698.8,179.4 703.2,182.7 690,182.2" fill="#ffffbf" />
<polygon points="791,425.3 804.2,427.5 802,429.7 788.8,427.5" fill="#ffffbf" />
</g>
<polygon points="683.5,466 693.5,468 694.5,472.5 685.5,471.5" fill="#9eaad2" />
<polygon points="702.5,478 707.5,481 715.5,495 718.5,500 712.5,499" fill="#9eaad2" />
<polygon points="764.5,495 771.5,497 789.5,509.5 785.5,512.5 766.5,503.5" fill="#9eaad2" />
<polygon points="800.5,512 810.5,517 820.5,518 816.5,523 804.5,520" fill="#9eaad2" />
<polygon points="574.5,276 572.5,282 577.5,286" fill="#9eaad2" />
<g filter="url(#rough)">
<polygon points="550.5,73.4 541.5,76.6 540.2,91.9 542.8,108.5 555.5,116.2 568.3,121.3 573.4,134 586.2,141.7 596.4,152 601.5,157 611.7,157 624.5,162.2 632.2,172.4 644.9,174.9 651.3,182.6 655.2,200.5 660.3,213.3 667.9,228.6 670.5,238.8 675.3,249.3 681.2,270.5 690,288.1 698.8,312.2 703.2,338.6 714.2,358.3 718.6,371.5 709.8,378.1 722.9,400 740.5,408.8 758.1,417.6 769,437.4 762.5,448.3 782.2,457.1 797.6,463.7 810.8,479.1 817.3,498.8 819,509 813.1,517 813.1,517 802.7,514.4 785.4,509.2 768.1,504 764.6,495.3 750.8,490.1 740.9,492.8 732.2,502.3 723.5,498 713.1,495.4 706.2,484.1 699.3,472 687.2,466.8 676.8,470.2 669.8,459.8 661.2,454.6 652.5,451.2 656,435.6 652.5,425.2 646.4,414.8 643.8,395.7 633.4,392.2 629.1,388.8 635.2,376.7 640.4,366.3 636.9,355.9 647.3,350.7 650.8,336.8 643.8,324.7 631.7,321.2 609.2,322.1 591.8,325.5 586.6,314.3 581.4,303.9 574.5,292.8 576.2,280.6 565.8,273.7 564.1,259.8 569.3,244.2 577.9,232.1 581.4,223.4 572.7,213 562.4,216.5 555.4,211.3 541.6,206.1 532.9,195.7 529.4,185.3 526,174.9 523.4,161.9 513.8,161.1 496.5,164.5 493,171.5 481.8,166.3 475.7,154.1 463.6,157.6 456.6,155.9 461,147.2 459.2,138.5 462.7,129.9 470.5,122.1 484.4,123.8 494.8,121.2 490.4,116 496.5,105.6 503.4,98.7 508.6,83.1 519,81.3 527.7,81.3 536.4,76.1 545,74.4" fill="#ec9f78" stroke="#ec9f78" stroke-width="0.8" stroke-linejoin="round"/>
<g clip-path="url(#lc2)">
<polygon points="444.5,64 684.5,64 684.5,199 649.5,206 624.5,217 611.5,240 594.5,262 572.5,280 554.5,284 444.5,284" fill="#e9966f" />
<path d="M554.5 239C571.2 220.7 585.2 220.7 604.5 229C623.8 237.3 615.8 244 612.5 264C609.2 284 607.2 272.3 594.5 289C581.8 305.7 587.8 315.7 574.5 314C561.2 312.3 561.2 309 554.5 284C547.8 259 537.8 257.3 554.5 239Z" fill="#e9966f" />
</g></g>
<defs><clipPath id="nc2"><polygon points="444.5,64 684.5,64 684.5,199 649.5,206 624.5,217 611.5,240 594.5,262 572.5,280 554.5,284 444.5,284"/></clipPath></defs>
<g clip-path="url(#lc2)">
<rect x="449.5" y="64" width="380" height="470" filter="url(#spkS)"/>
<g clip-path="url(#nc2)"><rect x="449.5" y="64" width="240" height="230" filter="url(#spkD)"/></g>
</g>
<g filter="url(#rough)"><g clip-path="url(#lc2)">
<polygon points="657.7,207.8 661.1,220 659.4,237.3 652.5,244.2 643.8,237.3 635.1,244.2 628.2,242.5 624.7,254.6 617.8,266.8 624.7,277.2 620.5,289 622.5,309 643.8,314.3 657.7,310.1 666.4,316 668.1,333.3 664.6,350.7 661.2,364.5 668.1,374.9 682,392.2 692.4,400.9 706.2,399.2 721.8,407.8 739.1,416.5 756.5,423.4 758.2,430.4 749.5,439 746.1,454.6 742.6,468.5 730.5,458.1 709.7,454.6 694.1,454.6 685.4,465 679.5,476 669.5,466 658.5,459 647.5,454 649.5,435.6 646.5,425.2 640.5,414.8 637.5,399 627.5,395 622.5,389 629.5,376.7 633.5,366.3 630.5,354 640.5,348 644.5,336.8 639.5,328 631.7,326 609.2,328 587.5,331 580.5,314.3 575.5,303.9 568.5,292.8 569.5,280.6 572.7,278.9 583.1,277.2 590.1,266.8 597,259.8 607.4,251.2 610.9,240.8 617.8,228.6 623,218.2 635.1,211.3 649,206.1" fill="#ffffbf" stroke="#ffffbf" stroke-width="1" stroke-linejoin="round"/>
<polygon points="548.5,74 548.5,77.9 538.1,86.5 526,90 517.3,98.7 512.1,109.1 505.2,121.2 496.5,124 486.5,118 492.5,105.6 499.5,98.7 504.5,80 519,77 527.7,77 536.4,72" fill="#ffffbf" stroke="#ffffbf" stroke-width="1" stroke-linejoin="round"/>
<polygon points="462.7,127 467,133.3 465.3,145.5 461.8,154.1 466.5,160 452.5,160 454.5,147 454.5,138.5" fill="#ffffbf" stroke="#ffffbf" stroke-width="1" stroke-linejoin="round"/>
<polygon points="477.5,166.3 493,175 499.5,168 513.8,165 526.5,165 520.8,157.6 510.4,157.6 496.5,161.1 487.8,162.8" fill="#ffffbf" stroke="#ffffbf" stroke-width="1" stroke-linejoin="round"/>
</g></g>
<g clip-path="url(#lc2)">
<g clip-path="url(#yc2)"><rect x="449.5" y="64" width="230" height="190" filter="url(#spkO2)"/></g>
<g clip-path="url(#yc2)"><rect x="449.5" y="64" width="380" height="470" filter="url(#spkO)"/><rect x="449.5" y="64" width="380" height="470" filter="url(#spkR)"/></g>
<path d="M596.5 164C601.5 157.7 600.2 160 609.5 160C618.8 160 612.8 159.3 624.5 164C636.2 168.7 634.5 165.7 644.5 174C654.5 182.3 649.8 178.3 654.5 189C659.2 199.7 663.5 199 658.5 206C653.5 213 651.5 206.7 639.5 210C627.5 213.3 631.5 218 622.5 216C613.5 214 618.5 213 612.5 204C606.5 195 610.5 197.3 604.5 189C598.5 180.7 597.2 187.3 594.5 179C591.8 170.7 591.5 170.3 596.5 164Z" fill="#ec9f78" />
<circle cx="632.5" cy="297.5" r="15.5" fill="#ec9f78"/>
<circle cx="595.3" cy="283" r="9.5" fill="#ec9f78"/>
<circle cx="649" cy="362.8" r="7.5" fill="#ec9f78"/>
<line x1="664.6" y1="406.1" x2="675" y2="424.5" stroke="#ec9f78" stroke-width="18" stroke-linecap="round"/>
<g filter="url(#rough)"><polygon points="571.5,276 584.5,279 582.5,284 576.5,287" fill="#9eaad2" /><polygon points="578.5,296 583.5,298 586.5,304 591.5,312 597.5,321 592.5,323 584.5,311 580.5,303" fill="#9eaad2" /><polygon points="640.5,467 650.5,472 658.5,484 651.5,482" fill="#9eaad2" /><polygon points="456.5,152 460.5,151 459.5,158 455.5,158" fill="#9eaad2" /></g>
<polyline points="532.6,189 548,187 561.9,182.6 581.1,172.4 593.9,162.2 599,154.5" fill="none" stroke="#ffffbf" stroke-width="2.8" stroke-linecap="round"/>
<polygon points="560.7,143 566,141.7 572,149 583.6,150 580,156 566,153" fill="#ffffbf" />
<g filter="url(#rough2)">
<circle cx="600.5" cy="246" r="2.5" fill="#c9442f"/>
<circle cx="579.7" cy="266.8" r="2.5" fill="#c9442f"/>
<circle cx="597" cy="284.1" r="3.6" fill="#c9442f"/>
<path d="M628.5 293C630.5 289 630.2 289.7 634.5 290C638.8 290.3 639.5 290 641.5 294C643.5 298 642.8 298 640.5 302C638.2 306 638.5 306 634.5 306C630.5 306 630.5 306.3 628.5 302C626.5 297.7 626.5 297 628.5 293Z" fill="#c9442f" />
<ellipse cx="645.5" cy="247.7" rx="6" ry="1.8" fill="#c9442f" transform="rotate(-10 645.5 247.7)"/>
<circle cx="669.8" cy="256.4" r="2.5" fill="#c9442f"/>
<circle cx="662.9" cy="320.5" r="3.2" fill="#c9442f"/>
<path d="M689.5 312C690.5 311 691.5 314.7 694.5 314C697.5 313.3 697.5 309 698.5 310C699.5 311 696.8 313 697.5 317C698.2 321 701.5 321 700.5 322C699.5 323 697.8 320 694.5 320C691.2 320 691.5 323 690.5 322C689.5 321 691.8 320.3 691.5 317C691.2 313.7 688.5 313 689.5 312Z" fill="#c9442f" />
<path d="M696.5 331C697.5 329.3 698.8 329.3 701.5 330C704.2 330.7 704.5 330.7 704.5 333C704.5 335.3 703.5 336.3 701.5 337C699.5 337.7 700.2 337 698.5 335C696.8 333 695.5 332.7 696.5 331Z" fill="#c9442f" />
<circle cx="664.6" cy="319.5" r="3.2" fill="#c9442f"/>
<circle cx="649" cy="362.8" r="3.5" fill="#c9442f"/>
<circle cx="664.6" cy="404.4" r="4.2" fill="#c9442f"/>
<circle cx="675" cy="423.4" r="4.4" fill="#c9442f"/>
<circle cx="740.9" cy="428.6" r="2.6" fill="#c9442f"/>
<circle cx="763.4" cy="441.6" r="2.6" fill="#c9442f"/>
<circle cx="790.5" cy="497.5" r="3" fill="#c9442f"/>
<ellipse cx="738.6" cy="409.5" rx="3.5" ry="1.8" fill="#c9442f" transform="rotate(30 738.6 409.5)"/>
<path d="M699.3 465C700.4 460.4 703.9 464.4 713.1 463.3C722.3 462.2 720.1 458.7 727 461.6C733.9 464.5 732.2 465.1 733.9 472C735.6 478.9 735.7 477.8 732.2 482.4C728.7 487 728.7 485.2 723.5 485.8C718.3 486.4 721.2 487 716.6 484.1C712 481.2 715.5 483.6 709.7 477.2C703.9 470.8 698.2 469.6 699.3 465Z" fill="#c9442f" />
<circle cx="531.5" cy="108.9" r="4" fill="#c9442f"/>
<path d="M529.7 136.7C529.7 129.8 530.9 129.7 536.7 124.5C542.5 119.3 540.2 121.7 547.1 121.1C554 120.5 555.2 119.3 557.5 122.8C559.8 126.3 557.5 126.9 554 131.5C550.5 136.1 550.6 132.7 547.1 136.7C543.6 140.7 547.1 140.7 543.6 143.6C540.1 146.5 541.3 147.6 536.7 145.3C532.1 143 529.7 143.6 529.7 136.7Z" fill="#c9442f" />
<ellipse cx="491.6" cy="145.3" rx="4" ry="2.2" fill="#c9442f"/>
<circle cx="566.1" cy="133.2" r="3" fill="#c9442f"/>
<circle cx="541.9" cy="178.2" r="6" fill="#c9442f"/>
<path d="M541.9 197.3C544.2 194.4 545.3 195 554 193.8C562.7 192.6 561 196.1 567.9 193.8C574.8 191.5 567.9 190.4 574.8 186.9C581.7 183.4 584 179.9 588.6 183.4C593.2 186.9 589.7 190.4 588.6 197.3C587.5 204.2 591 202.5 585.2 204.2C579.4 205.9 580.5 202.5 571.3 202.5C562.1 202.5 565.6 204.2 557.5 204.2C549.4 204.2 552.3 204.8 547.1 202.5C541.9 200.2 539.6 200.2 541.9 197.3Z" fill="#c9442f" />
<circle cx="602.5" cy="212.9" r="6.5" fill="#c9442f"/>
</g>
</g>
<defs><clipPath id="lc3"><polygon points="989.7,73.4 981.9,84.7 979.3,102 987.1,114.1 1000.9,119.3 1011.3,126.3 1023.4,140.1 1035.6,150.5 1046,157.5 1063.3,162.7 1080.6,174.8 1090,177 1092.7,184.9 1094.9,204.6 1101,218 1105,235 1114,250 1116.8,260 1114.6,270.4 1127.8,288 1134.4,305.6 1143.1,327.5 1151.9,349.4 1156.3,367 1149.7,378 1162.9,393.3 1180.4,406.5 1202.4,419.7 1209,437.2 1206.8,450.4 1226.5,459.2 1241.9,467.9 1250.7,481.1 1257.3,500.9 1258,510 1251.6,517 1251.6,517 1241.2,514.4 1223.9,509.2 1206.6,504 1203.1,495.3 1189.3,490.1 1179.4,492.8 1170.7,502.3 1162,498 1151.6,495.4 1144.7,484.1 1137.8,472 1125.7,466.8 1115.3,470.2 1108.3,459.8 1099.7,454.6 1091,451.2 1094.5,435.6 1091,425.2 1084.9,414.8 1082.3,395.7 1071.9,392.2 1067.6,388.8 1073.7,376.7 1078.9,366.3 1075.4,355.9 1085.8,350.7 1089.3,336.8 1082.3,324.7 1070.2,321.2 1047.7,322.1 1030.3,325.5 1025.1,314.3 1019.9,303.9 1013,292.8 1014.7,280.6 1004.3,273.7 1002.6,259.8 1007.8,244.2 1016.4,232.1 1019.9,223.4 1011.2,213 1000.9,216.5 993.9,211.3 980.1,206.1 971.4,195.7 967.9,185.3 964.5,174.9 961.9,161.9 952.3,161.1 935,164.5 931.5,171.5 920.3,166.3 914.2,154.1 902.1,157.6 895.1,155.9 899.5,147.2 897.7,138.5 901.2,129.9 909,122.1 922.9,123.8 933.3,121.2 928.9,116 935,105.6 941.9,98.7 947.1,83.1 957.5,81.3 966.2,81.3 974.9,76.1 983.5,74.4"/></clipPath><clipPath id="sc3"><polygon points="989.7,73.4 995.7,78.7 1007.8,76.1 1030.3,73.5 1056.3,71.3 1105,70 1087,92 1191,244 1255.3,334.5 1316,533 1251.6,517 1244.6,521 1251,514 1250.3,504.9 1243.7,485.1 1234.9,471.9 1219.5,463.2 1199.8,454.4 1202,441.2 1195.4,423.7 1173.4,410.5 1155.9,397.3 1142.7,382 1149.3,371 1144.9,353.4 1136.1,331.5 1127.4,309.6 1120.8,292 1107.6,274.4 1109.8,264 1107,254 1098,239 1094,222 1087.9,208.6 1085.7,188.9 1083,181 1073.6,178.8 1056.3,166.7 1039,161.5 1028.6,154.5 1016.4,144.1 1004.3,130.3 993.9,123.3 980.1,118.1 972.3,106 974.9,88.7 982.7,77.4"/></clipPath>
<clipPath id="yc3"><polygon points="1096.2,207.8 1099.6,220 1097.9,237.3 1091,244.2 1082.3,237.3 1073.6,244.2 1066.7,242.5 1063.2,254.6 1056.3,266.8 1063.2,277.2 1059,289 1061,309 1082.3,314.3 1096.2,310.1 1104.9,316 1106.6,333.3 1103.1,350.7 1099.7,364.5 1106.6,374.9 1120.5,392.2 1130.9,400.9 1144.7,399.2 1160.3,407.8 1177.6,416.5 1195,423.4 1196.7,430.4 1188,439 1184.6,454.6 1181.1,468.5 1169,458.1 1148.2,454.6 1132.6,454.6 1123.9,465 1118,476 1108,466 1097,459 1086,454 1088,435.6 1085,425.2 1079,414.8 1076,399 1066,395 1061,389 1068,376.7 1072,366.3 1069,354 1079,348 1083,336.8 1078,328 1070.2,326 1047.7,328 1026,331 1019,314.3 1014,303.9 1007,292.8 1008,280.6 1011.2,278.9 1021.6,277.2 1028.6,266.8 1035.5,259.8 1045.9,251.2 1049.4,240.8 1056.3,228.6 1061.5,218.2 1073.6,211.3 1087.5,206.1"/><polygon points="987,74 987,77.9 976.6,86.5 964.5,90 955.8,98.7 950.6,109.1 943.7,121.2 935,124 925,118 931,105.6 938,98.7 943,80 957.5,77 966.2,77 974.9,72"/><polygon points="901.2,127 905.5,133.3 903.8,145.5 900.3,154.1 905,160 891,160 893,147 893,138.5"/><polygon points="916,166.3 931.5,175 938,168 952.3,165 965,165 959.3,157.6 948.9,157.6 935,161.1 926.3,162.8"/></clipPath></defs>
<polyline points="986.7,75.4 978.9,86.7 976.3,104 984.1,116.1 997.9,121.3 1008.3,128.3 1020.4,142.1 1032.6,152.5 1043,159.5 1060.3,164.7 1077.6,176.8 1087,179 1089.7,186.9 1091.9,206.6 1098,220 1102,237 1111,252 1113.8,262 1111.6,272.4 1124.8,290 1131.4,307.6 1140.1,329.5 1148.9,351.4 1153.3,369 1146.7,380 1159.9,395.3 1177.4,408.5 1199.4,421.7 1206,439.2 1203.8,452.4 1223.5,461.2 1238.9,469.9 1247.7,483.1 1254.3,502.9 1255,512 1248.6,519" fill="none" stroke="#ec9f78" stroke-width="12" stroke-linejoin="round"/>
<polygon points="989.7,73.4 995.7,78.7 1007.8,76.1 1030.3,73.5 1056.3,71.3 1105,70 1087,92 1191,244 1255.3,334.5 1316,533 1251.6,517 1244.6,521 1251,514 1250.3,504.9 1243.7,485.1 1234.9,471.9 1219.5,463.2 1199.8,454.4 1202,441.2 1195.4,423.7 1173.4,410.5 1155.9,397.3 1142.7,382 1149.3,371 1144.9,353.4 1136.1,331.5 1127.4,309.6 1120.8,292 1107.6,274.4 1109.8,264 1107,254 1098,239 1094,222 1087.9,208.6 1085.7,188.9 1083,181 1073.6,178.8 1056.3,166.7 1039,161.5 1028.6,154.5 1016.4,144.1 1004.3,130.3 993.9,123.3 980.1,118.1 972.3,106 974.9,88.7 982.7,77.4" fill="#2d60d4" />
<g clip-path="url(#sc3)">
<polygon points="985,70 1000,76 1002,100 1016.5,105 1035.6,117.6 1037.3,131.5 1046,140.1 1056.4,143.6 1072,154 1094.5,167.9 1090,180 1040,165 1000,125 975,110 975,80" fill="#9eaad2" />
<polygon points="986,86 998,83 1003,90 1016,97 1017,104 1000,106 988,104" fill="#f4f6cf" />
<polygon points="1020,84 1024,83 1024.5,85.5 1020.5,86.5" fill="#e8eef0" />
<polygon points="1026,85.2 1030,84.2 1030.5,86.7 1026.5,87.7" fill="#e8eef0" />
<polygon points="1032,86.4 1036,85.4 1036.5,87.9 1032.5,88.9" fill="#e8eef0" />
<polygon points="1038,87.6 1042,86.6 1042.5,89.1 1038.5,90.1" fill="#e8eef0" />
<polygon points="1044,88.8 1048,87.8 1048.5,90.3 1044.5,91.3" fill="#e8eef0" />
<polygon points="1050,90 1054,89 1054.5,91.5 1050.5,92.5" fill="#e8eef0" />
<polygon points="1056,91.2 1060,90.2 1060.5,92.7 1056.5,93.7" fill="#e8eef0" />
<polygon points="1085,175 1090.5,169.5 1094.9,167.3 1105.8,165.1 1127.8,162.9 1132.2,159.6 1160,159 1260,281 1217.8,281.4 1213.4,292.4 1200.2,301.2 1196.9,316.5 1198,338.5 1202.4,358.2 1206.8,371.4 1211.2,388.9 1215.6,404.3 1220,420 1228,437 1237.5,452.6 1243,457 1200,440 1150,390 1120,300 1090,220" fill="#9eaad2" />
<path d="M1103.6 218.9C1106.7 215.6 1117.6 217 1127.8 216.7C1138 216.4 1141.6 215.5 1147.5 217.8C1153.4 220.1 1151.7 221.5 1153 226.6C1154.3 231.7 1154.8 234.6 1153 239.7C1151.2 244.8 1150.2 245.2 1145.3 248.5C1140.4 251.8 1136.8 254 1132.2 254C1127.6 254 1129.7 253.9 1125.6 248.5C1121.5 243.1 1119.7 237.8 1114.6 230.9C1109.5 224 1100.5 222.2 1103.6 218.9Z" fill="#2d60d4" />
<polygon points="1241.9,457 1259.5,448.2 1272.6,450.4 1281.4,463.6 1277,485.5 1285.8,498.7 1303.3,509.9 1316,531 1300,531 1262,522 1266,508 1259.5,492.1 1250.7,472.3" fill="#9eaad2" />
<polygon points="1090,172 1099.3,173.9 1105.8,213.4 1114.6,239.7 1127.8,257.3 1136.6,283.6 1149.7,305.6 1158.5,327.5 1167.3,349.4 1176.1,362.6 1180,355 1172,335 1168,315 1165.1,299 1180.5,305.6 1196.9,305.6 1196.9,338.5 1202.4,360.4 1206.8,375.8 1193.6,389 1202.4,395.5 1213.4,399.9 1215.6,415.3 1226.5,437.2 1237.5,452.6 1237.5,459.2 1250.7,472.3 1259.5,492.1 1266,508 1262,522 1250,520 1240,480 1200,440 1150,390 1120,300 1085,200" fill="#ffffbf" />
<polygon points="1209,425 1218,430 1228,445 1232,456 1222,458 1210,450" fill="#9eaad2" />
<polygon points="1272.6,451.5 1277,449.3 1295.7,459.2 1293.5,465.8" fill="#ffffbf" />
<polygon points="1210.1,365.9 1226.5,365.9 1226.5,373.6 1210.1,372.5" fill="#ffffbf" />
<polygon points="1230.9,365.9 1239.7,365.9 1238.6,372.5 1230.9,372.5" fill="#ffffbf" />
<polygon points="1244.1,365.9 1261.6,365.9 1250.7,371.4 1244.1,371.4" fill="#ffffbf" />
<polygon points="1211.2,378 1226.5,376.9 1226.5,384.5 1213.4,384.5" fill="#ffffbf" />
<polygon points="1237.5,382.4 1248.5,379.1 1246.3,384.5 1237.5,387.8" fill="#ffffbf" />
<polygon points="1217.8,390 1233.1,385.7 1235.3,392.2 1218.8,392.2" fill="#ffffbf" />
<polygon points="1241.9,390 1252.9,386.7 1259.4,392.2 1243,392.2" fill="#ffffbf" />
<polygon points="1209,323.1 1222.1,323.1 1219.9,326.4 1207.9,326.4" fill="#ffffbf" />
<polygon points="1206.8,329.7 1217.8,328.6 1215.6,335.2 1204.6,335.2" fill="#ffffbf" />
<polygon points="1198,342.9 1211.2,339.6 1211.2,344 1198,347.2" fill="#ffffbf" />
<polygon points="1156.3,268.2 1171.7,261.7 1182.6,259.5 1182.6,264 1160,270 1182.6,267 1182.6,270.4 1156.3,272.6" fill="#ffffbf" />
<polygon points="1169.5,274.8 1180.4,274.8 1180.4,285.8 1169.5,285.8" fill="#ffffbf" />
<polygon points="1182.6,290.2 1193.6,290.2 1193.6,299 1183.7,299" fill="#ffffbf" />
<polygon points="1112.4,181.6 1121.2,179.4 1128.9,187.1 1121.2,190.3" fill="#ffffbf" />
<polygon points="1125.6,178.3 1138.7,177.2 1142,181.6 1130,182.7" fill="#ffffbf" />
<path d="M1088.3 151.9C1089.2 149.7 1099 148.7 1103.6 148.7C1108.2 148.7 1112.2 149.7 1111.3 151.9C1110.4 154.1 1103.8 159.6 1099.2 159.6C1094.6 159.6 1087.4 154.1 1088.3 151.9Z" fill="#ffffbf" />
<polygon points="1261.6,384.5 1268.2,382.4 1270.4,391.1 1259.4,392.2" fill="#9eaad2" />
</g>
<polygon points="1122,466 1132,468 1133,472.5 1124,471.5" fill="#9eaad2" />
<polygon points="1141,478 1146,481 1154,495 1157,500 1151,499" fill="#9eaad2" />
<polygon points="1203,495 1210,497 1228,509.5 1224,512.5 1205,503.5" fill="#9eaad2" />
<polygon points="1239,512 1249,517 1259,518 1255,523 1243,520" fill="#9eaad2" />
<polygon points="1013,276 1011,282 1016,286" fill="#9eaad2" />
<g filter="url(#rough)">
<polygon points="989.7,73.4 981.9,84.7 979.3,102 987.1,114.1 1000.9,119.3 1011.3,126.3 1023.4,140.1 1035.6,150.5 1046,157.5 1063.3,162.7 1080.6,174.8 1090,177 1092.7,184.9 1094.9,204.6 1101,218 1105,235 1114,250 1116.8,260 1114.6,270.4 1127.8,288 1134.4,305.6 1143.1,327.5 1151.9,349.4 1156.3,367 1149.7,378 1162.9,393.3 1180.4,406.5 1202.4,419.7 1209,437.2 1206.8,450.4 1226.5,459.2 1241.9,467.9 1250.7,481.1 1257.3,500.9 1258,510 1251.6,517 1251.6,517 1241.2,514.4 1223.9,509.2 1206.6,504 1203.1,495.3 1189.3,490.1 1179.4,492.8 1170.7,502.3 1162,498 1151.6,495.4 1144.7,484.1 1137.8,472 1125.7,466.8 1115.3,470.2 1108.3,459.8 1099.7,454.6 1091,451.2 1094.5,435.6 1091,425.2 1084.9,414.8 1082.3,395.7 1071.9,392.2 1067.6,388.8 1073.7,376.7 1078.9,366.3 1075.4,355.9 1085.8,350.7 1089.3,336.8 1082.3,324.7 1070.2,321.2 1047.7,322.1 1030.3,325.5 1025.1,314.3 1019.9,303.9 1013,292.8 1014.7,280.6 1004.3,273.7 1002.6,259.8 1007.8,244.2 1016.4,232.1 1019.9,223.4 1011.2,213 1000.9,216.5 993.9,211.3 980.1,206.1 971.4,195.7 967.9,185.3 964.5,174.9 961.9,161.9 952.3,161.1 935,164.5 931.5,171.5 920.3,166.3 914.2,154.1 902.1,157.6 895.1,155.9 899.5,147.2 897.7,138.5 901.2,129.9 909,122.1 922.9,123.8 933.3,121.2 928.9,116 935,105.6 941.9,98.7 947.1,83.1 957.5,81.3 966.2,81.3 974.9,76.1 983.5,74.4" fill="#ec9f78" stroke="#ec9f78" stroke-width="0.8" stroke-linejoin="round"/>
<g clip-path="url(#lc3)">
<polygon points="883,64 1123,64 1123,199 1088,206 1063,217 1050,240 1033,262 1011,280 993,284 883,284" fill="#e9966f" />
<path d="M993 239C1009.7 220.7 1023.7 220.7 1043 229C1062.3 237.3 1054.3 244 1051 264C1047.7 284 1045.7 272.3 1033 289C1020.3 305.7 1026.3 315.7 1013 314C999.7 312.3 999.7 309 993 284C986.3 259 976.3 257.3 993 239Z" fill="#e9966f" />
</g></g>
<defs><clipPath id="nc3"><polygon points="883,64 1123,64 1123,199 1088,206 1063,217 1050,240 1033,262 1011,280 993,284 883,284"/></clipPath></defs>
<g clip-path="url(#lc3)">
<rect x="888" y="64" width="380" height="470" filter="url(#spkS)"/>
<g clip-path="url(#nc3)"><rect x="888" y="64" width="240" height="230" filter="url(#spkD)"/></g>
</g>
<g filter="url(#rough)"><g clip-path="url(#lc3)">
<polygon points="1096.2,207.8 1099.6,220 1097.9,237.3 1091,244.2 1082.3,237.3 1073.6,244.2 1066.7,242.5 1063.2,254.6 1056.3,266.8 1063.2,277.2 1059,289 1061,309 1082.3,314.3 1096.2,310.1 1104.9,316 1106.6,333.3 1103.1,350.7 1099.7,364.5 1106.6,374.9 1120.5,392.2 1130.9,400.9 1144.7,399.2 1160.3,407.8 1177.6,416.5 1195,423.4 1196.7,430.4 1188,439 1184.6,454.6 1181.1,468.5 1169,458.1 1148.2,454.6 1132.6,454.6 1123.9,465 1118,476 1108,466 1097,459 1086,454 1088,435.6 1085,425.2 1079,414.8 1076,399 1066,395 1061,389 1068,376.7 1072,366.3 1069,354 1079,348 1083,336.8 1078,328 1070.2,326 1047.7,328 1026,331 1019,314.3 1014,303.9 1007,292.8 1008,280.6 1011.2,278.9 1021.6,277.2 1028.6,266.8 1035.5,259.8 1045.9,251.2 1049.4,240.8 1056.3,228.6 1061.5,218.2 1073.6,211.3 1087.5,206.1" fill="#ffffbf" stroke="#ffffbf" stroke-width="1" stroke-linejoin="round"/>
<polygon points="987,74 987,77.9 976.6,86.5 964.5,90 955.8,98.7 950.6,109.1 943.7,121.2 935,124 925,118 931,105.6 938,98.7 943,80 957.5,77 966.2,77 974.9,72" fill="#ffffbf" stroke="#ffffbf" stroke-width="1" stroke-linejoin="round"/>
<polygon points="901.2,127 905.5,133.3 903.8,145.5 900.3,154.1 905,160 891,160 893,147 893,138.5" fill="#ffffbf" stroke="#ffffbf" stroke-width="1" stroke-linejoin="round"/>
<polygon points="916,166.3 931.5,175 938,168 952.3,165 965,165 959.3,157.6 948.9,157.6 935,161.1 926.3,162.8" fill="#ffffbf" stroke="#ffffbf" stroke-width="1" stroke-linejoin="round"/>
</g></g>
<g clip-path="url(#lc3)">
<g clip-path="url(#yc3)"><rect x="888" y="64" width="230" height="190" filter="url(#spkO2)"/></g>
<g clip-path="url(#yc3)"><rect x="888" y="64" width="380" height="470" filter="url(#spkO)"/><rect x="888" y="64" width="380" height="470" filter="url(#spkR)"/></g>
<path d="M1035 164C1040 157.7 1038.7 160 1048 160C1057.3 160 1051.3 159.3 1063 164C1074.7 168.7 1073 165.7 1083 174C1093 182.3 1088.3 178.3 1093 189C1097.7 199.7 1102 199 1097 206C1092 213 1090 206.7 1078 210C1066 213.3 1070 218 1061 216C1052 214 1057 213 1051 204C1045 195 1049 197.3 1043 189C1037 180.7 1035.7 187.3 1033 179C1030.3 170.7 1030 170.3 1035 164Z" fill="#ec9f78" />
<circle cx="1071" cy="297.5" r="15.5" fill="#ec9f78"/>
<circle cx="1033.8" cy="283" r="9.5" fill="#ec9f78"/>
<circle cx="1087.5" cy="362.8" r="7.5" fill="#ec9f78"/>
<line x1="1103.1" y1="406.1" x2="1113.5" y2="424.5" stroke="#ec9f78" stroke-width="18" stroke-linecap="round"/>
<g filter="url(#rough)"><polygon points="1010,276 1023,279 1021,284 1015,287" fill="#9eaad2" /><polygon points="1017,296 1022,298 1025,304 1030,312 1036,321 1031,323 1023,311 1019,303" fill="#9eaad2" /><polygon points="1079,467 1089,472 1097,484 1090,482" fill="#9eaad2" /><polygon points="895,152 899,151 898,158 894,158" fill="#9eaad2" /></g>
<polyline points="971,191 983,189.5 995,186 1008,180 1020,173 1031,165 1036,158" fill="none" stroke="#ffffbf" stroke-width="2.8" stroke-linecap="round"/>
<g filter="url(#rough2)">
<circle cx="1039" cy="246" r="2.5" fill="#c9442f"/>
<circle cx="1018.2" cy="266.8" r="2.5" fill="#c9442f"/>
<circle cx="1035.5" cy="284.1" r="3.6" fill="#c9442f"/>
<path d="M1067 293C1069 289 1068.7 289.7 1073 290C1077.3 290.3 1078 290 1080 294C1082 298 1081.3 298 1079 302C1076.7 306 1077 306 1073 306C1069 306 1069 306.3 1067 302C1065 297.7 1065 297 1067 293Z" fill="#c9442f" />
<ellipse cx="1084" cy="247.7" rx="6" ry="1.8" fill="#c9442f" transform="rotate(-10 1084 247.7)"/>
<circle cx="1108.3" cy="256.4" r="2.5" fill="#c9442f"/>
<circle cx="1101.4" cy="320.5" r="3.2" fill="#c9442f"/>
<path d="M1128 312C1129 311 1130 314.7 1133 314C1136 313.3 1136 309 1137 310C1138 311 1135.3 313 1136 317C1136.7 321 1140 321 1139 322C1138 323 1136.3 320 1133 320C1129.7 320 1130 323 1129 322C1128 321 1130.3 320.3 1130 317C1129.7 313.7 1127 313 1128 312Z" fill="#c9442f" />
<path d="M1135 331C1136 329.3 1137.3 329.3 1140 330C1142.7 330.7 1143 330.7 1143 333C1143 335.3 1142 336.3 1140 337C1138 337.7 1138.7 337 1137 335C1135.3 333 1134 332.7 1135 331Z" fill="#c9442f" />
<circle cx="1103.1" cy="319.5" r="3.2" fill="#c9442f"/>
<circle cx="1087.5" cy="362.8" r="3.5" fill="#c9442f"/>
<circle cx="1103.1" cy="404.4" r="4.2" fill="#c9442f"/>
<circle cx="1113.5" cy="423.4" r="4.4" fill="#c9442f"/>
<circle cx="1179.4" cy="428.6" r="2.6" fill="#c9442f"/>
<circle cx="1201.9" cy="441.6" r="2.6" fill="#c9442f"/>
<circle cx="1229" cy="497.5" r="3" fill="#c9442f"/>
<ellipse cx="1177.1" cy="409.5" rx="3.5" ry="1.8" fill="#c9442f" transform="rotate(30 1177.1 409.5)"/>
<path d="M1137.8 465C1138.9 460.4 1142.4 464.4 1151.6 463.3C1160.8 462.2 1158.6 458.7 1165.5 461.6C1172.4 464.5 1170.7 465.1 1172.4 472C1174.1 478.9 1174.2 477.8 1170.7 482.4C1167.2 487 1167.2 485.2 1162 485.8C1156.8 486.4 1159.7 487 1155.1 484.1C1150.5 481.2 1154 483.6 1148.2 477.2C1142.4 470.8 1136.7 469.6 1137.8 465Z" fill="#c9442f" />
<path d="M968 107.2C970.9 100.3 973.7 99.1 980.1 102C986.5 104.9 982.5 109 987.1 115.9C991.7 122.8 992.9 117.6 994 122.8C995.1 128 994 126.9 990.5 131.5C987 136.1 987.1 132.1 983.6 136.7C980.1 141.3 984.1 143 980.1 145.3C976.1 147.6 975.5 147.6 971.5 143.6C967.5 139.6 968 140.1 968 133.2C968 126.3 971.5 131.5 971.5 122.8C971.5 114.1 965.1 114.1 968 107.2Z" fill="#c9442f" />
<path d="M1002.7 143.6C1003.9 139 1003.3 136.1 1009.6 134.9C1015.9 133.7 1017.1 135.5 1021.7 140.1C1026.3 144.7 1025.7 144.7 1023.4 148.8C1021.1 152.9 1020.6 152.3 1014.8 152.3C1009 152.3 1010.1 151.7 1006.1 148.8C1002.1 145.9 1001.5 148.2 1002.7 143.6Z" fill="#c9442f" />
<circle cx="932.5" cy="144.5" r="3.5" fill="#c9442f"/>
<circle cx="981" cy="177.4" r="5" fill="#c9442f"/>
<path d="M1035.6 162.7C1037.9 158.7 1040.2 157.5 1046 159.2C1051.8 160.9 1051.7 163.3 1052.9 167.9C1054.1 172.5 1054.1 172 1049.5 173.1C1044.9 174.2 1043.6 174.8 1039 171.3C1034.4 167.8 1033.3 166.7 1035.6 162.7Z" fill="#c9442f" />
<circle cx="1018.2" cy="193.8" r="8.5" fill="#c9442f"/>
<ellipse cx="991.4" cy="198.2" rx="8" ry="5" fill="#c9442f"/>
<circle cx="1042.5" cy="212.9" r="6.5" fill="#c9442f"/>
</g>
</g>
<text x="6.2" y="34.6" font-size="31.5" font-weight="bold" >a)</text>
<text x="6" y="1149.5" font-size="31.5" font-weight="bold" >d)</text>
<text x="214.5" y="562.5" font-size="24.5" text-anchor="middle" >2010</text>
<text x="719" y="560" font-size="24.5" text-anchor="middle" >2015</text>
<text x="1156.5" y="560" font-size="24.5" text-anchor="middle" >2020</text>
<rect x="241.5" y="594.5" width="44.5" height="21" fill="#c9442f" stroke="#6e6e6e" stroke-width="1"/>
<text x="295" y="611.5" font-size="18.9" >[0,0.2)</text>
<rect x="424" y="594.5" width="44.5" height="21" fill="#ec9f78" stroke="#6e6e6e" stroke-width="1"/>
<text x="477.5" y="611.5" font-size="18.9" >[0.2,0.4)</text>
<rect x="607" y="594.5" width="44.5" height="21" fill="#ffffbf" stroke="#6e6e6e" stroke-width="1"/>
<text x="660.5" y="611.5" font-size="18.9" >[0.4,0.6)</text>
<rect x="796" y="594.5" width="44.5" height="21" fill="#9eaad2" stroke="#6e6e6e" stroke-width="1"/>
<text x="849.5" y="611.5" font-size="18.9" >[0.6,0.8)</text>
<rect x="986.5" y="594.5" width="44.5" height="21" fill="#2d60d4" stroke="#6e6e6e" stroke-width="1"/>
<text x="1040" y="611.5" font-size="18.9" >[0.8,1]</text>
<text x="633" y="660.5" font-size="20.8" text-anchor="middle" font-weight="bold" >Habitat Quality</text>
<text x="1259" y="22.7" font-size="19.4" font-family="Liberation Sans" textLength="11.9" lengthAdjust="spacingAndGlyphs">N</text>
<polygon points="1264.3,27.2 1251.1,72.3 1264.3,55.2" fill="#000" />
<polygon points="1264.3,28.5 1276.9,70.8 1264.3,55.2" fill="#fff" stroke="#000" stroke-width="1.1" stroke-linejoin="miter"/>
<path d="M1228.8 123.7V136.1M1285.8 123.7V136.1M1228.8 129.9H1285.8" stroke="#000" stroke-width="1.7" fill="none"/>
<text x="1228.8" y="115.9" font-size="16" text-anchor="middle" >0</text>
<text x="1278.1" y="115.9" font-size="16" >50 km</text>
<line x1="93" y1="1037.7" x2="541" y2="1037.7" stroke="#d9d9d9" stroke-width="1.4"/>
<text x="74" y="1044" font-size="18.5" text-anchor="end" >0</text>
<line x1="93" y1="975.4" x2="541" y2="975.4" stroke="#d9d9d9" stroke-width="1.4"/>
<text x="74" y="981.6" font-size="18.5" text-anchor="end" >0.2</text>
<line x1="93" y1="913" x2="541" y2="913" stroke="#d9d9d9" stroke-width="1.4"/>
<text x="74" y="919.3" font-size="18.5" text-anchor="end" >0.4</text>
<line x1="93" y1="850.7" x2="541" y2="850.7" stroke="#d9d9d9" stroke-width="1.4"/>
<text x="74" y="857" font-size="18.5" text-anchor="end" >0.6</text>
<line x1="93" y1="788.3" x2="541" y2="788.3" stroke="#d9d9d9" stroke-width="1.4"/>
<text x="74" y="794.6" font-size="18.5" text-anchor="end" >0.8</text>
<line x1="93" y1="726" x2="541" y2="726" stroke="#d9d9d9" stroke-width="1.4"/>
<text x="74" y="732.2" font-size="18.5" text-anchor="end" >1</text>
<text x="7" y="734.8" font-size="31.5" font-weight="bold" >b)</text>
<text transform="translate(43.5 890) rotate(-90)" font-size="20.6" text-anchor="middle">Habitat Quality</text>
<polyline points="167.6,794.5 316.8,816 466,824.2" fill="none" stroke="#add8e6" stroke-width="4.4" stroke-linejoin="round" stroke-linecap="round"/>
<polygon points="162.1,794.5 167.6,789 173.1,794.5 167.6,800" fill="#add8e6" />
<polygon points="311.3,816 316.8,810.5 322.3,816 316.8,821.5" fill="#add8e6" />
<polygon points="460.5,824.2 466,818.7 471.5,824.2 466,829.7" fill="#add8e6" />
<polyline points="167.6,863.4 316.8,875.9 466,880.9" fill="none" stroke="#a6a6a6" stroke-width="4.4" stroke-linejoin="round" stroke-linecap="round"/>
<rect x="163.1" y="858.9" width="9" height="9" fill="#a6a6a6"/>
<rect x="312.3" y="871.4" width="9" height="9" fill="#a6a6a6"/>
<rect x="461.5" y="876.4" width="9" height="9" fill="#a6a6a6"/>
<polyline points="167.6,930.1 316.8,933.6 466,935.8" fill="none" stroke="#ffa500" stroke-width="4.4" stroke-linejoin="round" stroke-linecap="round"/>
<polygon points="162.1,934.6 167.6,924.6 173.1,934.6" fill="#ed7d31" />
<polygon points="311.3,938.1 316.8,928.1 322.3,938.1" fill="#ed7d31" />
<polygon points="460.5,940.3 466,930.3 471.5,940.3" fill="#ed7d31" />
<text x="165.3" y="784.4" font-size="21" text-anchor="middle" font-weight="bold" fill="#add8e6" >0.780</text>
<text x="317.5" y="808.5" font-size="21" text-anchor="middle" font-weight="bold" fill="#add8e6" >0.711</text>
<text x="467.5" y="817.5" font-size="21" text-anchor="middle" font-weight="bold" fill="#add8e6" >0.685</text>
<text x="165.3" y="850.5" font-size="21" text-anchor="middle" font-weight="bold" fill="#a6a6a6" >0.559</text>
<text x="317.5" y="864.5" font-size="21" text-anchor="middle" font-weight="bold" fill="#a6a6a6" >0.519</text>
<text x="467.5" y="871.5" font-size="21" text-anchor="middle" font-weight="bold" fill="#a6a6a6" >0.503</text>
<text x="165.3" y="923.5" font-size="21" text-anchor="middle" font-weight="bold" fill="#ffa500" >0.345</text>
<text x="317.5" y="927" font-size="21" text-anchor="middle" font-weight="bold" fill="#ffa500" >0.334</text>
<text x="467.5" y="930.5" font-size="21" text-anchor="middle" font-weight="bold" fill="#ffa500" >0.327</text>
<text x="167.6" y="1068.7" font-size="20" text-anchor="middle" font-weight="bold" >2010</text>
<text x="316.8" y="1068.7" font-size="20" text-anchor="middle" font-weight="bold" >2015</text>
<text x="466" y="1068.7" font-size="20" text-anchor="middle" font-weight="bold" >2020</text>
<line x1="62" y1="1090.3" x2="104" y2="1090.3" stroke="#a6a6a6" stroke-width="4.4" stroke-linecap="round"/>
<rect x="78.7" y="1085.8" width="9" height="9" fill="#a6a6a6"/>
<text x="108" y="1096.3" font-size="20.5" >Coastal zone</text>
<line x1="222.5" y1="1090.3" x2="265.5" y2="1090.3" stroke="#ffa500" stroke-width="4.4" stroke-linecap="round"/>
<polygon points="237.8,1094.8 243.3,1084.8 248.8,1094.8" fill="#ed7d31" />
<text x="270.5" y="1096.3" font-size="20.5" >Terrestrial area</text>
<line x1="403.5" y1="1090.3" x2="444" y2="1090.3" stroke="#add8e6" stroke-width="4.4" stroke-linecap="round"/>
<polygon points="418.3,1090.3 423.8,1084.8 429.3,1090.3 423.8,1095.8" fill="#add8e6" />
<text x="449.5" y="1096.3" font-size="20.5" >Marine area</text>
<rect x="650.2" y="691.4" width="663.1" height="372.4" fill="#ededed"/>
<line x1="738.9" y1="691.4" x2="738.9" y2="1063.8" stroke="#fff" stroke-width="1.3"/>
<line x1="795" y1="691.4" x2="795" y2="1063.8" stroke="#fff" stroke-width="0.9"/>
<line x1="851.2" y1="691.4" x2="851.2" y2="1063.8" stroke="#fff" stroke-width="1.3"/>
<line x1="907.3" y1="691.4" x2="907.3" y2="1063.8" stroke="#fff" stroke-width="0.9"/>
<line x1="963.5" y1="691.4" x2="963.5" y2="1063.8" stroke="#fff" stroke-width="1.3"/>
<line x1="1019.6" y1="691.4" x2="1019.6" y2="1063.8" stroke="#fff" stroke-width="0.9"/>
<line x1="1075.8" y1="691.4" x2="1075.8" y2="1063.8" stroke="#fff" stroke-width="1.3"/>
<line x1="1131.9" y1="691.4" x2="1131.9" y2="1063.8" stroke="#fff" stroke-width="0.9"/>
<line x1="1188.1" y1="691.4" x2="1188.1" y2="1063.8" stroke="#fff" stroke-width="1.3"/>
<line x1="1244.2" y1="691.4" x2="1244.2" y2="1063.8" stroke="#fff" stroke-width="0.9"/>
<line x1="1300.4" y1="691.4" x2="1300.4" y2="1063.8" stroke="#fff" stroke-width="1.3"/>
<line x1="650.2" y1="815.2" x2="1313.3" y2="815.2" stroke="#fff" stroke-width="1.6"/>
<line x1="650.2" y1="925.8" x2="1313.3" y2="925.8" stroke="#fff" stroke-width="1.6"/>
<line x1="650.2" y1="1037" x2="1313.3" y2="1037" stroke="#fff" stroke-width="1.6"/>
<path d="M711.9 815.2L711.9 814.5L714.4 814.5L716.8 813.8L719.3 812.8L721.7 811.2L724.2 809.1L726.6 806.4L729.1 803.4L731.5 800.3L734 797.7L736.4 795.8L738.9 795.2L741.4 795.8L743.8 797.7L746.3 800.3L748.7 803.4L751.2 806.4L753.6 809.1L756.1 811.2L758.5 812.8L761 813.8L763.4 814.5L765.9 814.5L765.9 815.2Z" fill="#b3b3b3"/>
<path d="M711.9 814.5L714.4 814.5L716.8 813.8L719.3 812.8L721.7 811.2L724.2 809.1L726.6 806.4L729.1 803.4L731.5 800.3L734 797.7L736.4 795.8L738.9 795.2L741.4 795.8L743.8 797.7L746.3 800.3L748.7 803.4L751.2 806.4L753.6 809.1L756.1 811.2L758.5 812.8L761 813.8L763.4 814.5L765.9 814.5" fill="none" stroke="#1a1a1a" stroke-width="1.25"/>
<path d="M811.9 815.2L811.9 814.1L814.3 813.6L816.8 813.1L819.3 812.8L821.7 812.4L824.2 812.1L826.6 811.8L829.1 811.5L831.5 811.3L834 811L836.4 810.8L838.9 810.6L841.3 810.3L843.8 810.1L846.2 809.9L848.7 809.7L851.1 809.5L853.6 809.3L856 809.1L858.5 808.9L860.9 808.7L863.4 808.5L865.8 808.4L868.3 808.2L870.8 808L873.2 807.9L875.7 807.7L878.1 807.5L880.6 807.4L883 807.2L885.5 807L887.9 806.9L890.4 806.7L892.8 806.6L895.3 806.4L897.7 806.2L900.2 806L902.6 805.8L905.1 805.5L907.5 805.1L910 804.7L912.4 804.2L914.9 803.5L917.3 802.5L919.8 801.2L922.3 799.5L924.7 797.5L927.2 795.1L929.6 792.4L932.1 789.6L934.5 786.6L937 783.8L939.4 781.3L941.9 779.2L944.3 777.7L946.8 777.1L949.2 777.2L951.7 778.2L954.1 779.8L956.6 782.1L959 784.8L961.5 787.8L963.9 790.8L966.4 793.6L968.8 796.2L971.3 798.5L973.7 800.3L976.2 801.8L978.7 802.8L981.1 803.6L983.6 804L986 804.2L988.5 804.2L990.9 804.1L993.4 803.9L995.8 803.7L998.3 803.5L1000.7 803.2L1003.2 803.1L1005.6 803L1008.1 803L1010.5 803L1013 803.2L1015.4 803.5L1017.9 803.9L1020.3 804.3L1022.8 804.9L1025.2 805.6L1027.7 806.3L1030.2 807.1L1032.6 807.9L1035.1 808.7L1037.5 809.5L1040 810.4L1042.4 811.2L1044.9 812L1047.3 812.7L1049.8 813.4L1052.2 814L1054.7 814.5L1057.1 814.5L1059.6 814.5L1062 814.5L1064.5 814.5L1066.9 814.5L1069.4 814.5L1071.8 814.5L1074.3 814.5L1076.7 814.5L1079.2 814.5L1081.7 814.5L1084.1 814.5L1086.6 814.5L1089 814.5L1091.5 814.5L1093.9 814.5L1096.4 814.5L1098.8 814.5L1101.3 814.5L1103.7 814.5L1106.2 814.5L1108.6 814.5L1111.1 814.5L1113.5 813L1116 811.3L1118.4 809.5L1120.9 807.8L1123.3 806.2L1125.8 804.9L1128.2 804.1L1130.7 803.8L1133.2 804.1L1135.6 804.9L1138.1 806.1L1140.5 807.6L1143 809.2L1145.4 810.8L1147.9 812.2L1150.3 813.2L1152.8 813.8L1155.2 813.8L1157.7 813L1160.1 811L1162.6 807.5L1165 802L1167.5 794.1L1169.9 783.6L1172.4 770.4L1174.8 755.1L1177.3 738.9L1179.7 723.1L1182.2 709.6L1184.6 700.2L1187.1 696.1L1189.6 697.9L1192 705.5L1194.5 717.5L1196.9 732.6L1199.4 748.7L1201.8 764.4L1204.3 778.2L1206.7 789.7L1209.2 798.5L1211.6 804.8L1214.1 809.1L1216.5 811.8L1219 813.4L1219 815.2Z" fill="#b3b3b3"/>
<path d="M811.9 814.1L814.3 813.6L816.8 813.1L819.3 812.8L821.7 812.4L824.2 812.1L826.6 811.8L829.1 811.5L831.5 811.3L834 811L836.4 810.8L838.9 810.6L841.3 810.3L843.8 810.1L846.2 809.9L848.7 809.7L851.1 809.5L853.6 809.3L856 809.1L858.5 808.9L860.9 808.7L863.4 808.5L865.8 808.4L868.3 808.2L870.8 808L873.2 807.9L875.7 807.7L878.1 807.5L880.6 807.4L883 807.2L885.5 807L887.9 806.9L890.4 806.7L892.8 806.6L895.3 806.4L897.7 806.2L900.2 806L902.6 805.8L905.1 805.5L907.5 805.1L910 804.7L912.4 804.2L914.9 803.5L917.3 802.5L919.8 801.2L922.3 799.5L924.7 797.5L927.2 795.1L929.6 792.4L932.1 789.6L934.5 786.6L937 783.8L939.4 781.3L941.9 779.2L944.3 777.7L946.8 777.1L949.2 777.2L951.7 778.2L954.1 779.8L956.6 782.1L959 784.8L961.5 787.8L963.9 790.8L966.4 793.6L968.8 796.2L971.3 798.5L973.7 800.3L976.2 801.8L978.7 802.8L981.1 803.6L983.6 804L986 804.2L988.5 804.2L990.9 804.1L993.4 803.9L995.8 803.7L998.3 803.5L1000.7 803.2L1003.2 803.1L1005.6 803L1008.1 803L1010.5 803L1013 803.2L1015.4 803.5L1017.9 803.9L1020.3 804.3L1022.8 804.9L1025.2 805.6L1027.7 806.3L1030.2 807.1L1032.6 807.9L1035.1 808.7L1037.5 809.5L1040 810.4L1042.4 811.2L1044.9 812L1047.3 812.7L1049.8 813.4L1052.2 814L1054.7 814.5L1057.1 814.5L1059.6 814.5L1062 814.5L1064.5 814.5L1066.9 814.5L1069.4 814.5L1071.8 814.5L1074.3 814.5L1076.7 814.5L1079.2 814.5L1081.7 814.5L1084.1 814.5L1086.6 814.5L1089 814.5L1091.5 814.5L1093.9 814.5L1096.4 814.5L1098.8 814.5L1101.3 814.5L1103.7 814.5L1106.2 814.5L1108.6 814.5L1111.1 814.5L1113.5 813L1116 811.3L1118.4 809.5L1120.9 807.8L1123.3 806.2L1125.8 804.9L1128.2 804.1L1130.7 803.8L1133.2 804.1L1135.6 804.9L1138.1 806.1L1140.5 807.6L1143 809.2L1145.4 810.8L1147.9 812.2L1150.3 813.2L1152.8 813.8L1155.2 813.8L1157.7 813L1160.1 811L1162.6 807.5L1165 802L1167.5 794.1L1169.9 783.6L1172.4 770.4L1174.8 755.1L1177.3 738.9L1179.7 723.1L1182.2 709.6L1184.6 700.2L1187.1 696.1L1189.6 697.9L1192 705.5L1194.5 717.5L1196.9 732.6L1199.4 748.7L1201.8 764.4L1204.3 778.2L1206.7 789.7L1209.2 798.5L1211.6 804.8L1214.1 809.1L1216.5 811.8L1219 813.4" fill="none" stroke="#1a1a1a" stroke-width="1.25"/>
<path d="M722.1 815.2L722.1 814.5L724.5 813.9L726.9 812.2L729.3 809.3L731.7 805.1L734.1 800.4L736.5 796.7L738.9 795.2L741.3 796.7L743.7 800.4L746.1 805.1L748.5 809.3L750.9 812.2L753.3 813.9L755.7 814.5L755.7 815.2Z" fill="#ffa500"/>
<path d="M811.9 815.2L811.9 814.1L814.4 813.6L816.8 813.1L819.3 812.8L821.7 812.4L824.2 812.1L826.6 811.8L829.1 811.5L831.5 811.3L834 811L836.5 810.8L838.9 810.6L841.4 810.3L843.8 810.1L846.3 809.9L848.7 809.7L851.2 809.5L853.7 809.3L856.1 809.1L858.6 808.9L861 808.7L863.5 808.5L865.9 808.4L868.4 808.2L870.9 808L873.3 807.8L875.8 807.7L878.2 807.5L880.7 807.3L883.1 807.2L885.6 807L888 806.9L890.5 806.7L893 806.6L895.4 806.4L897.9 806.3L900.3 806.1L902.8 805.9L905.2 805.7L907.7 805.5L910.2 805.4L912.6 805.2L915.1 804.9L917.5 804.3L920 803.5L922.4 802.3L924.9 800.6L927.4 798.5L929.8 795.8L932.3 792.7L934.7 789.3L937.2 785.8L939.6 782.6L942.1 779.9L944.5 778L947 777.2L949.5 777.6L951.9 779.1L954.4 781.7L956.8 784.9L959.3 788.5L961.7 792.2L964.2 795.8L966.7 798.9L969.1 801.5L971.6 803.6L974 805.1L976.5 806.1L978.9 806.7L981.4 807L983.9 807L986.3 806.9L988.8 806.6L991.2 806.2L993.7 805.7L996.1 805.3L998.6 804.8L1001.1 804.3L1003.5 804L1006 803.7L1008.4 803.5L1010.9 803.4L1013.3 803.4L1015.8 803.6L1018.2 804L1020.7 804.4L1023.2 805L1025.6 805.6L1028.1 806.3L1030.5 807.1L1033 807.9L1035.4 808.7L1037.9 809.4L1040.4 810.2L1042.8 810.9L1045.3 811.5L1047.7 812L1050.2 812.5L1052.6 813L1055.1 813.3L1057.6 813.6L1060 813.9L1062.5 814.1L1064.9 814.3L1067.4 814.4L1069.8 814.5L1072.3 814.5L1074.7 814.5L1077.2 814.5L1079.7 814.5L1082.1 814.5L1084.6 814.5L1087 814.5L1087 815.2Z" fill="#ffa500"/>
<path d="M1092.6 815.2L1092.6 814.5L1095.1 814.5L1097.6 814.5L1100.1 814.5L1102.6 814.5L1105.1 814.5L1107.6 814.5L1110.1 814.5L1112.6 814.4L1115.1 814.3L1117.6 814.2L1120.1 814L1122.6 813.9L1125.1 813.8L1127.6 813.7L1130.1 813.7L1132.6 813.7L1135.1 813.7L1137.6 813.8L1140.1 813.9L1142.6 814L1145.1 814.1L1147.5 814.2L1150 814.4L1152.5 814.5L1155 814.5L1157.5 814.5L1160 814.5L1162.5 814.5L1165 814.5L1167.5 814.5L1170 814.5L1172.5 814.5L1175 814.5L1177.5 814.4L1180 814L1182.5 813.4L1185 812.9L1187.5 812.7L1190 812.8L1192.5 813.2L1195 813.7L1197.5 814.2L1200 814.5L1202.4 814.5L1204.9 814.5L1204.9 815.2Z" fill="#ffa500"/>
<path d="M1053.3 815.2L1053.3 814.5L1055.8 814.5L1058.3 814.5L1060.7 814.5L1063.2 814.4L1065.6 814L1068.1 813.5L1070.5 813L1073 812.6L1075.4 812.4L1077.9 812.5L1080.4 812.8L1082.8 813.3L1085.3 813.8L1087.7 814.3L1090.2 814.5L1092.6 814.5L1092.6 815.2Z" fill="#add8e6"/>
<path d="M1109.5 815.2L1109.5 814.5L1111.9 814.5L1114.4 814.5L1116.9 814.1L1119.3 813.1L1121.8 811.6L1124.2 809.8L1126.7 808.3L1129.1 807.3L1131.6 807.4L1134.1 808.4L1136.5 810L1139 811.7L1141.4 813.2L1143.9 814.2L1146.3 814.5L1148.8 814.5L1148.8 815.2Z" fill="#add8e6"/>
<path d="M1160 815.2L1160 814.5L1162.6 814.5L1165.1 814.5L1167.7 814.5L1170.2 813.2L1172.8 809L1175.3 799.5L1177.9 781.6L1180.4 755.2L1183 725.3L1185.5 702.4L1188.1 696.7L1190.7 710.9L1193.2 738.3L1195.8 767.7L1198.3 790.6L1200.9 804.5L1203.4 811.3L1206 814L1208.5 814.5L1211.1 814.5L1213.6 814.5L1216.2 814.5L1216.2 815.2Z" fill="#add8e6"/>
<path d="M1002.8 815.2L1002.8 814.5L1004.8 814.5L1006.8 814.5L1008.8 814.5L1010.8 814.5L1012.8 814.2L1014.8 813.8L1016.8 813.7L1018.8 813.8L1020.9 814.2L1022.9 814.5L1024.9 814.5L1026.9 814.5L1028.9 814.5L1030.9 814.5L1030.9 815.2Z" fill="#add8e6"/>
<path d="M711.9 925.8L711.9 925.1L714.4 925.1L716.8 924.4L719.3 923.4L721.7 921.8L724.2 919.7L726.6 917L729.1 914L731.5 910.9L734 908.3L736.4 906.4L738.9 905.8L741.4 906.4L743.8 908.3L746.3 910.9L748.7 914L751.2 917L753.6 919.7L756.1 921.8L758.5 923.4L761 924.4L763.4 925.1L765.9 925.1L765.9 925.8Z" fill="#b3b3b3"/>
<path d="M711.9 925.1L714.4 925.1L716.8 924.4L719.3 923.4L721.7 921.8L724.2 919.7L726.6 917L729.1 914L731.5 910.9L734 908.3L736.4 906.4L738.9 905.8L741.4 906.4L743.8 908.3L746.3 910.9L748.7 914L751.2 917L753.6 919.7L756.1 921.8L758.5 923.4L761 924.4L763.4 925.1L765.9 925.1" fill="none" stroke="#1a1a1a" stroke-width="1.25"/>
<path d="M811.9 925.8L811.9 924.7L814.3 924.2L816.8 923.7L819.3 923.4L821.7 923L824.2 922.7L826.6 922.4L829.1 922.1L831.5 921.9L834 921.6L836.4 921.4L838.9 921.2L841.3 920.9L843.8 920.7L846.2 920.5L848.7 920.3L851.1 920.1L853.6 919.9L856 919.7L858.5 919.5L860.9 919.3L863.4 919.1L865.8 919L868.3 918.8L870.8 918.6L873.2 918.5L875.7 918.3L878.1 918.1L880.6 918L883 917.8L885.5 917.6L887.9 917.5L890.4 917.3L892.8 917.2L895.3 917L897.7 916.8L900.2 916.6L902.6 916.4L905.1 916L907.5 915.7L910 915.3L912.4 914.8L914.9 914L917.3 913L919.8 911.6L922.3 910L924.7 907.9L927.2 905.5L929.6 902.8L932.1 899.9L934.5 896.9L937 894L939.4 891.4L941.9 889.3L944.3 887.8L946.8 887.2L949.2 887.3L951.7 888.3L954.1 890L956.6 892.4L959 895.1L961.5 898.2L963.9 901.2L966.4 904.1L968.8 906.7L971.3 909L973.7 910.8L976.2 912.2L978.7 913.1L981.1 913.6L983.6 913.8L986 913.7L988.5 913.4L990.9 912.8L993.4 912.2L995.8 911.5L998.3 910.8L1000.7 910.1L1003.2 909.6L1005.6 909.1L1008.1 908.8L1010.5 908.7L1013 908.7L1015.4 909L1017.9 909.5L1020.3 910.2L1022.8 911.1L1025.2 912.1L1027.7 913.3L1030.2 914.5L1032.6 915.8L1035.1 917.1L1037.5 918.4L1040 919.5L1042.4 920.6L1044.9 921.4L1047.3 921.9L1049.8 922L1052.2 921.5L1054.7 920.1L1057.1 917.7L1059.6 914.3L1062 909.8L1064.5 904.6L1066.9 899.1L1069.4 894L1071.8 890L1074.3 887.8L1076.7 887.7L1079.2 889.9L1081.7 893.9L1084.1 899.2L1086.6 905.1L1089 911L1091.5 916.1L1093.9 920.4L1096.4 923.6L1098.8 925.1L1101.3 925.1L1103.7 925.1L1106.2 925.1L1108.6 925.1L1111.1 925.1L1113.5 925.1L1116 925.1L1118.4 925.1L1120.9 925L1123.3 924L1125.8 923.2L1128.2 922.6L1130.7 922.4L1133.2 922.6L1135.6 923.1L1138.1 923.8L1140.5 924.6L1143 925.1L1145.4 925.1L1147.9 925.1L1150.3 925.1L1152.8 925.1L1155.2 925.1L1157.7 925.1L1160.1 924L1162.6 921.5L1165 917.7L1167.5 912.3L1169.9 905.1L1172.4 896.2L1174.8 885.9L1177.3 875L1179.7 864.3L1182.2 855.3L1184.6 848.9L1187.1 846.2L1189.6 847.4L1192 852.4L1194.5 860.5L1196.9 870.5L1199.4 881.4L1201.8 891.8L1204.3 901.1L1206.7 908.8L1209.2 914.7L1211.6 918.9L1214.1 921.8L1216.5 923.6L1219 924.7L1219 925.8Z" fill="#b3b3b3"/>
<path d="M811.9 924.7L814.3 924.2L816.8 923.7L819.3 923.4L821.7 923L824.2 922.7L826.6 922.4L829.1 922.1L831.5 921.9L834 921.6L836.4 921.4L838.9 921.2L841.3 920.9L843.8 920.7L846.2 920.5L848.7 920.3L851.1 920.1L853.6 919.9L856 919.7L858.5 919.5L860.9 919.3L863.4 919.1L865.8 919L868.3 918.8L870.8 918.6L873.2 918.5L875.7 918.3L878.1 918.1L880.6 918L883 917.8L885.5 917.6L887.9 917.5L890.4 917.3L892.8 917.2L895.3 917L897.7 916.8L900.2 916.6L902.6 916.4L905.1 916L907.5 915.7L910 915.3L912.4 914.8L914.9 914L917.3 913L919.8 911.6L922.3 910L924.7 907.9L927.2 905.5L929.6 902.8L932.1 899.9L934.5 896.9L937 894L939.4 891.4L941.9 889.3L944.3 887.8L946.8 887.2L949.2 887.3L951.7 888.3L954.1 890L956.6 892.4L959 895.1L961.5 898.2L963.9 901.2L966.4 904.1L968.8 906.7L971.3 909L973.7 910.8L976.2 912.2L978.7 913.1L981.1 913.6L983.6 913.8L986 913.7L988.5 913.4L990.9 912.8L993.4 912.2L995.8 911.5L998.3 910.8L1000.7 910.1L1003.2 909.6L1005.6 909.1L1008.1 908.8L1010.5 908.7L1013 908.7L1015.4 909L1017.9 909.5L1020.3 910.2L1022.8 911.1L1025.2 912.1L1027.7 913.3L1030.2 914.5L1032.6 915.8L1035.1 917.1L1037.5 918.4L1040 919.5L1042.4 920.6L1044.9 921.4L1047.3 921.9L1049.8 922L1052.2 921.5L1054.7 920.1L1057.1 917.7L1059.6 914.3L1062 909.8L1064.5 904.6L1066.9 899.1L1069.4 894L1071.8 890L1074.3 887.8L1076.7 887.7L1079.2 889.9L1081.7 893.9L1084.1 899.2L1086.6 905.1L1089 911L1091.5 916.1L1093.9 920.4L1096.4 923.6L1098.8 925.1L1101.3 925.1L1103.7 925.1L1106.2 925.1L1108.6 925.1L1111.1 925.1L1113.5 925.1L1116 925.1L1118.4 925.1L1120.9 925L1123.3 924L1125.8 923.2L1128.2 922.6L1130.7 922.4L1133.2 922.6L1135.6 923.1L1138.1 923.8L1140.5 924.6L1143 925.1L1145.4 925.1L1147.9 925.1L1150.3 925.1L1152.8 925.1L1155.2 925.1L1157.7 925.1L1160.1 924L1162.6 921.5L1165 917.7L1167.5 912.3L1169.9 905.1L1172.4 896.2L1174.8 885.9L1177.3 875L1179.7 864.3L1182.2 855.3L1184.6 848.9L1187.1 846.2L1189.6 847.4L1192 852.4L1194.5 860.5L1196.9 870.5L1199.4 881.4L1201.8 891.8L1204.3 901.1L1206.7 908.8L1209.2 914.7L1211.6 918.9L1214.1 921.8L1216.5 923.6L1219 924.7" fill="none" stroke="#1a1a1a" stroke-width="1.25"/>
<path d="M722.1 925.8L722.1 925.1L724.5 924.5L726.9 922.8L729.3 919.9L731.7 915.7L734.1 911L736.5 907.3L738.9 905.8L741.3 907.3L743.7 911L746.1 915.7L748.5 919.9L750.9 922.8L753.3 924.5L755.7 925.1L755.7 925.8Z" fill="#ffa500"/>
<path d="M811.9 925.8L811.9 924.7L814.4 924.2L816.8 923.7L819.3 923.4L821.7 923L824.2 922.7L826.6 922.4L829.1 922.1L831.5 921.9L834 921.6L836.5 921.4L838.9 921.2L841.4 920.9L843.8 920.7L846.3 920.5L848.7 920.3L851.2 920.1L853.7 919.9L856.1 919.7L858.6 919.5L861 919.3L863.5 919.1L865.9 919L868.4 918.8L870.9 918.6L873.3 918.4L875.8 918.3L878.2 918.1L880.7 917.9L883.1 917.8L885.6 917.6L888 917.5L890.5 917.3L893 917.2L895.4 917L897.9 916.9L900.3 916.7L902.8 916.5L905.2 916.3L907.7 916.1L910.2 916L912.6 915.8L915.1 915.4L917.5 914.9L920 914L922.4 912.8L924.9 911.1L927.4 908.9L929.8 906.2L932.3 903L934.7 899.6L937.2 896L939.6 892.7L942.1 890L944.5 888L947 887.2L949.5 887.5L951.9 889L954.4 891.5L956.8 894.7L959.3 898.3L961.7 902L964.2 905.5L966.7 908.6L969.1 911.2L971.6 913.2L974 914.6L976.5 915.6L978.9 916.2L981.4 916.5L983.9 916.5L986.3 916.5L988.8 916.3L991.2 916.1L993.7 915.9L996.1 915.8L998.6 915.6L1001.1 915.6L1003.5 915.5L1006 915.6L1008.4 915.7L1010.9 915.9L1013.3 916.2L1015.8 916.6L1018.2 917L1020.7 917.5L1023.2 918L1025.6 918.5L1028.1 919.1L1030.5 919.7L1033 920.3L1035.4 920.8L1037.9 921.4L1040.4 921.9L1042.8 922.4L1045.3 922.8L1047.7 923.2L1050.2 923.6L1052.6 923.9L1055.1 924.1L1057.6 924.4L1060 924.6L1062.5 924.7L1064.9 924.9L1067.4 925L1069.8 925.1L1072.3 925.1L1074.7 925.1L1077.2 925.1L1079.7 925.1L1082.1 925.1L1084.6 925.1L1087 925.1L1087 925.8Z" fill="#ffa500"/>
<path d="M1176.9 925.8L1176.9 925.1L1178.5 925.1L1180.1 925.1L1181.7 925.1L1183.3 925L1184.9 924.6L1186.5 924.4L1188.1 924.3L1189.7 924.4L1191.3 924.6L1192.9 925L1194.5 925.1L1196.1 925.1L1197.7 925.1L1199.3 925.1L1199.3 925.8Z" fill="#ffa500"/>
<path d="M991.6 925.8L991.6 925.1L994.1 925.1L996.6 925.1L999.2 925.1L1001.7 925L1004.2 924.3L1006.7 923.3L1009.3 922L1011.8 920.7L1014.3 919.7L1016.8 919.3L1019.4 919.7L1021.9 920.7L1024.4 922L1026.9 923.3L1029.5 924.3L1032 925L1034.5 925.1L1037.1 925.1L1039.6 925.1L1042.1 925.1L1042.1 925.8Z" fill="#add8e6"/>
<path d="M1053.3 925.8L1053.3 925.1L1055.8 925.1L1058.3 925.1L1060.8 924.8L1063.3 922.7L1065.8 918.1L1068.3 909.9L1070.8 899.3L1073.3 889.7L1075.8 885.8L1078.3 889.7L1080.8 899.3L1083.3 909.9L1085.8 918.1L1088.3 922.7L1090.8 924.8L1093.3 925.1L1095.8 925.1L1098.3 925.1L1098.3 925.8Z" fill="#add8e6"/>
<path d="M1109.5 925.8L1109.5 925.1L1111.9 925.1L1114.4 925.1L1116.9 925.1L1119.3 924.6L1121.8 923.5L1124.2 922.1L1126.7 920.7L1129.1 919.9L1131.6 919.9L1134.1 920.8L1136.5 922.2L1139 923.6L1141.4 924.6L1143.9 925.1L1146.3 925.1L1148.8 925.1L1148.8 925.8Z" fill="#add8e6"/>
<path d="M1160 925.8L1160 925.1L1162.6 925.1L1165.1 925.1L1167.7 925.1L1170.2 924L1172.8 920.7L1175.3 913.7L1177.9 901.3L1180.4 883.7L1183 864.6L1185.5 850.2L1188.1 846.6L1190.7 855.5L1193.2 872.8L1195.8 892L1198.3 907.5L1200.9 917.4L1203.4 922.5L1206 924.7L1208.5 925.1L1211.1 925.1L1213.6 925.1L1216.2 925.1L1216.2 925.8Z" fill="#add8e6"/>
<path d="M711.9 1037L711.9 1036.3L714.4 1036.1L716.8 1035.3L719.3 1034.1L721.7 1032.2L724.2 1029.7L726.6 1026.5L729.1 1022.8L731.5 1019.2L734 1016L736.4 1013.8L738.9 1013L741.4 1013.8L743.8 1016L746.3 1019.2L748.7 1022.8L751.2 1026.5L753.6 1029.7L756.1 1032.2L758.5 1034.1L761 1035.3L763.4 1036.1L765.9 1036.3L765.9 1037Z" fill="#b3b3b3"/>
<path d="M711.9 1036.3L714.4 1036.1L716.8 1035.3L719.3 1034.1L721.7 1032.2L724.2 1029.7L726.6 1026.5L729.1 1022.8L731.5 1019.2L734 1016L736.4 1013.8L738.9 1013L741.4 1013.8L743.8 1016L746.3 1019.2L748.7 1022.8L751.2 1026.5L753.6 1029.7L756.1 1032.2L758.5 1034.1L761 1035.3L763.4 1036.1L765.9 1036.3" fill="none" stroke="#1a1a1a" stroke-width="1.25"/>
<path d="M811.9 1037L811.9 1035.9L814.3 1035.4L816.8 1034.9L819.3 1034.6L821.7 1034.2L824.2 1033.9L826.6 1033.6L829.1 1033.3L831.5 1033.1L834 1032.8L836.4 1032.6L838.9 1032.4L841.3 1032.1L843.8 1031.9L846.2 1031.7L848.7 1031.5L851.1 1031.3L853.6 1031.1L856 1030.9L858.5 1030.7L860.9 1030.5L863.4 1030.3L865.8 1030.2L868.3 1030L870.8 1029.8L873.2 1029.6L875.7 1029.5L878.1 1029.3L880.6 1029.2L883 1029L885.5 1028.8L887.9 1028.7L890.4 1028.5L892.8 1028.3L895.3 1028.2L897.7 1028L900.2 1027.8L902.6 1027.6L905.1 1027.3L907.5 1026.9L910 1026.6L912.4 1026.1L914.9 1025.4L917.3 1024.5L919.8 1023.3L922.3 1021.7L924.7 1019.9L927.2 1017.7L929.6 1015.3L932.1 1012.6L934.5 1009.9L937 1007.3L939.4 1005L941.9 1003.1L944.3 1001.8L946.8 1001.2L949.2 1001.3L951.7 1002.2L954.1 1003.7L956.6 1005.8L959 1008.3L961.5 1011L963.9 1013.7L966.4 1016.3L968.8 1018.6L971.3 1020.5L973.7 1022L976.2 1023.1L978.7 1023.8L981.1 1024L983.6 1023.9L986 1023.4L988.5 1022.7L990.9 1021.8L993.4 1020.7L995.8 1019.5L998.3 1018.3L1000.7 1017.2L1003.2 1016.2L1005.6 1015.3L1008.1 1014.7L1010.5 1014.4L1013 1014.3L1015.4 1014.6L1017.9 1015.2L1020.3 1016.1L1022.8 1017.2L1025.2 1018.6L1027.7 1020.2L1030.2 1021.9L1032.6 1023.6L1035.1 1025.3L1037.5 1027L1040 1028.5L1042.4 1029.8L1044.9 1030.8L1047.3 1031.4L1049.8 1031.4L1052.2 1030.6L1054.7 1028.7L1057.1 1025.8L1059.6 1021.5L1062 1016.1L1064.5 1009.9L1066.9 1003.5L1069.4 997.7L1071.8 993.1L1074.3 990.7L1076.7 990.7L1079.2 993.2L1081.7 997.9L1084.1 1004.2L1086.6 1011.2L1089 1018.1L1091.5 1024.5L1093.9 1029.8L1096.4 1033.9L1098.8 1036.3L1101.3 1036.3L1103.7 1036.3L1106.2 1036.3L1108.6 1036.3L1111.1 1036.3L1113.5 1036.3L1116 1036.3L1118.4 1036.3L1120.9 1036.3L1123.3 1036.3L1125.8 1036.3L1128.2 1036.3L1130.7 1036.3L1133.2 1036.3L1135.6 1036.3L1138.1 1036.3L1140.5 1036.3L1143 1036.3L1145.4 1036.3L1147.9 1036.3L1150.3 1036.3L1152.8 1036.3L1155.2 1036.3L1157.7 1036.3L1160.1 1036.3L1162.6 1035L1165 1031.8L1167.5 1027.3L1169.9 1021.4L1172.4 1014.1L1174.8 1005.6L1177.3 996.6L1179.7 987.9L1182.2 980.5L1184.6 975.2L1187.1 972.9L1189.6 973.9L1192 977.9L1194.5 984.4L1196.9 992.5L1199.4 1001.3L1201.8 1009.8L1204.3 1017.3L1206.7 1023.5L1209.2 1028.2L1211.6 1031.7L1214.1 1034L1216.5 1035.4L1219 1036.3L1219 1037Z" fill="#b3b3b3"/>
<path d="M811.9 1035.9L814.3 1035.4L816.8 1034.9L819.3 1034.6L821.7 1034.2L824.2 1033.9L826.6 1033.6L829.1 1033.3L831.5 1033.1L834 1032.8L836.4 1032.6L838.9 1032.4L841.3 1032.1L843.8 1031.9L846.2 1031.7L848.7 1031.5L851.1 1031.3L853.6 1031.1L856 1030.9L858.5 1030.7L860.9 1030.5L863.4 1030.3L865.8 1030.2L868.3 1030L870.8 1029.8L873.2 1029.6L875.7 1029.5L878.1 1029.3L880.6 1029.2L883 1029L885.5 1028.8L887.9 1028.7L890.4 1028.5L892.8 1028.3L895.3 1028.2L897.7 1028L900.2 1027.8L902.6 1027.6L905.1 1027.3L907.5 1026.9L910 1026.6L912.4 1026.1L914.9 1025.4L917.3 1024.5L919.8 1023.3L922.3 1021.7L924.7 1019.9L927.2 1017.7L929.6 1015.3L932.1 1012.6L934.5 1009.9L937 1007.3L939.4 1005L941.9 1003.1L944.3 1001.8L946.8 1001.2L949.2 1001.3L951.7 1002.2L954.1 1003.7L956.6 1005.8L959 1008.3L961.5 1011L963.9 1013.7L966.4 1016.3L968.8 1018.6L971.3 1020.5L973.7 1022L976.2 1023.1L978.7 1023.8L981.1 1024L983.6 1023.9L986 1023.4L988.5 1022.7L990.9 1021.8L993.4 1020.7L995.8 1019.5L998.3 1018.3L1000.7 1017.2L1003.2 1016.2L1005.6 1015.3L1008.1 1014.7L1010.5 1014.4L1013 1014.3L1015.4 1014.6L1017.9 1015.2L1020.3 1016.1L1022.8 1017.2L1025.2 1018.6L1027.7 1020.2L1030.2 1021.9L1032.6 1023.6L1035.1 1025.3L1037.5 1027L1040 1028.5L1042.4 1029.8L1044.9 1030.8L1047.3 1031.4L1049.8 1031.4L1052.2 1030.6L1054.7 1028.7L1057.1 1025.8L1059.6 1021.5L1062 1016.1L1064.5 1009.9L1066.9 1003.5L1069.4 997.7L1071.8 993.1L1074.3 990.7L1076.7 990.7L1079.2 993.2L1081.7 997.9L1084.1 1004.2L1086.6 1011.2L1089 1018.1L1091.5 1024.5L1093.9 1029.8L1096.4 1033.9L1098.8 1036.3L1101.3 1036.3L1103.7 1036.3L1106.2 1036.3L1108.6 1036.3L1111.1 1036.3L1113.5 1036.3L1116 1036.3L1118.4 1036.3L1120.9 1036.3L1123.3 1036.3L1125.8 1036.3L1128.2 1036.3L1130.7 1036.3L1133.2 1036.3L1135.6 1036.3L1138.1 1036.3L1140.5 1036.3L1143 1036.3L1145.4 1036.3L1147.9 1036.3L1150.3 1036.3L1152.8 1036.3L1155.2 1036.3L1157.7 1036.3L1160.1 1036.3L1162.6 1035L1165 1031.8L1167.5 1027.3L1169.9 1021.4L1172.4 1014.1L1174.8 1005.6L1177.3 996.6L1179.7 987.9L1182.2 980.5L1184.6 975.2L1187.1 972.9L1189.6 973.9L1192 977.9L1194.5 984.4L1196.9 992.5L1199.4 1001.3L1201.8 1009.8L1204.3 1017.3L1206.7 1023.5L1209.2 1028.2L1211.6 1031.7L1214.1 1034L1216.5 1035.4L1219 1036.3" fill="none" stroke="#1a1a1a" stroke-width="1.25"/>
<path d="M722.1 1037L722.1 1036.3L724.5 1035.4L726.9 1033.4L729.3 1029.9L731.7 1024.9L734.1 1019.3L736.5 1014.8L738.9 1013L741.3 1014.8L743.7 1019.3L746.1 1024.9L748.5 1029.9L750.9 1033.4L753.3 1035.4L755.7 1036.3L755.7 1037Z" fill="#ffa500"/>
<path d="M811.9 1037L811.9 1035.9L814.3 1035.4L816.8 1034.9L819.2 1034.6L821.7 1034.2L824.1 1033.9L826.6 1033.6L829 1033.4L831.4 1033.1L833.9 1032.8L836.3 1032.6L838.8 1032.4L841.2 1032.1L843.7 1031.9L846.1 1031.7L848.5 1031.5L851 1031.3L853.4 1031.1L855.9 1030.9L858.3 1030.7L860.8 1030.5L863.2 1030.4L865.7 1030.2L868.1 1030L870.5 1029.8L873 1029.7L875.4 1029.5L877.9 1029.3L880.3 1029.2L882.8 1029L885.2 1028.8L887.6 1028.7L890.1 1028.5L892.5 1028.4L895 1028.2L897.4 1028.1L899.9 1027.9L902.3 1027.8L904.8 1027.6L907.2 1027.4L909.6 1027.3L912.1 1027.1L914.5 1026.8L917 1026.4L919.4 1025.7L921.9 1024.7L924.3 1023.3L926.7 1021.4L929.2 1019.1L931.6 1016.4L934.1 1013.3L936.5 1010.2L939 1007.1L941.4 1004.5L943.8 1002.5L946.3 1001.5L948.7 1001.5L951.2 1002.5L953.6 1004.5L956.1 1007.2L958.5 1010.4L961 1013.7L963.4 1016.9L965.8 1019.8L968.3 1022.2L970.7 1024.2L973.2 1025.6L975.6 1026.6L978.1 1027.2L980.5 1027.4L982.9 1027.5L985.4 1027.4L987.8 1027.3L990.3 1027.1L992.7 1026.8L995.2 1026.6L997.6 1026.4L1000 1026.3L1002.5 1026.2L1004.9 1026.3L1007.4 1026.4L1009.8 1026.5L1012.3 1026.8L1014.7 1027.1L1017.2 1027.5L1019.6 1028L1022 1028.5L1024.5 1029.1L1026.9 1029.7L1029.4 1030.3L1031.8 1030.9L1034.3 1031.5L1036.7 1032.1L1039.1 1032.7L1041.6 1033.2L1044 1033.7L1046.5 1034.1L1048.9 1034.5L1051.4 1034.8L1053.8 1035.1L1056.3 1035.4L1058.7 1035.6L1061.1 1035.8L1063.6 1036L1066 1036.1L1068.5 1036.2L1070.9 1036.3L1073.4 1036.3L1075.8 1036.3L1075.8 1037Z" fill="#ffa500"/>
<path d="M986 1037L986 1036.3L988.4 1036.3L990.8 1036.3L993.3 1036.3L995.7 1036.3L998.2 1036.3L1000.6 1035.7L1003 1034.7L1005.5 1033.5L1007.9 1032.1L1010.4 1030.8L1012.8 1030.1L1015.3 1030.1L1017.7 1030.8L1020.1 1032.1L1022.6 1033.5L1025 1034.7L1027.5 1035.7L1029.9 1036.3L1032.3 1036.3L1034.8 1036.3L1037.2 1036.3L1039.7 1036.3L1042.1 1036.3L1042.1 1037Z" fill="#add8e6"/>
<path d="M1050.5 1037L1050.5 1036.3L1053.1 1036.3L1055.6 1036.3L1058.1 1036.3L1060.6 1035.5L1063.2 1032.7L1065.7 1026.8L1068.2 1016.8L1070.7 1004.1L1073.3 993L1075.8 988.5L1078.3 993L1080.9 1004.1L1083.4 1016.8L1085.9 1026.8L1088.4 1032.7L1091 1035.5L1093.5 1036.3L1096 1036.3L1098.5 1036.3L1101.1 1036.3L1101.1 1037Z" fill="#add8e6"/>
<path d="M1160 1037L1160 1036.3L1162.6 1036.3L1165.1 1036.3L1167.7 1036.3L1170.2 1035.5L1172.8 1032.9L1175.3 1027.2L1177.9 1017.1L1180.4 1002.9L1183 987.3L1185.5 975.7L1188.1 972.8L1190.7 979.9L1193.2 994L1195.8 1009.5L1198.3 1022.1L1200.9 1030.2L1203.4 1034.3L1206 1036.1L1208.5 1036.3L1211.1 1036.3L1213.6 1036.3L1216.2 1036.3L1216.2 1037Z" fill="#add8e6"/>
<text x="649" y="825.2" font-size="22" text-anchor="end" >2010</text>
<text x="649" y="935.8" font-size="22" text-anchor="end" >2015</text>
<text x="649" y="1047" font-size="22" text-anchor="end" >2020</text>
<text transform="translate(591 885) rotate(-90)" font-size="27" text-anchor="middle">year</text>
<text x="606.5" y="719.3" font-size="31.5" font-weight="bold" >c)</text>
<rect x="662" y="697" width="24" height="14.5" fill="#b3b3b3" stroke="#222" stroke-width="1"/>
<rect x="661.6" y="723" width="24.6" height="14.8" fill="#ffa500"/>
<rect x="661.6" y="749.2" width="24.6" height="14.8" fill="#add8e6"/>
<text x="695.8" y="714.6" font-size="21" >Coastal zone</text>
<text x="695.8" y="741.6" font-size="21" >Terrestrial area</text>
<text x="695.8" y="766.6" font-size="21" >Marine area</text>
<text x="739.4" y="1060.2" font-size="19.5" text-anchor="middle" font-weight="bold" font-style="italic" >P1</text>
<text x="950.5" y="1060.2" font-size="19.5" text-anchor="middle" font-weight="bold" font-style="italic" >P2</text>
<text x="1022" y="1061.5" font-size="19.5" text-anchor="middle" font-weight="bold" font-style="italic" >P3</text>
<text x="1076" y="1060.2" font-size="19.5" text-anchor="middle" font-weight="bold" font-style="italic" >P4</text>
<text x="1137.8" y="1060.2" font-size="19.5" text-anchor="middle" font-weight="bold" font-style="italic" >P5</text>
<text x="1188" y="1060.2" font-size="19.5" text-anchor="middle" font-weight="bold" font-style="italic" >P6</text>
<text x="739.4" y="1089.3" font-size="22" text-anchor="middle" font-weight="bold" >0.0</text>
<text x="851.5" y="1090" font-size="22" text-anchor="middle" font-weight="bold" >0.2</text>
<text x="963.5" y="1089.6" font-size="22" text-anchor="middle" font-weight="bold" >0.4</text>
<text x="1078.3" y="1090.2" font-size="22" text-anchor="middle" font-weight="bold" >0.6</text>
<text x="1192.5" y="1088.1" font-size="22" text-anchor="middle" font-weight="bold" >0.8</text>
<text x="1304.5" y="1089.3" font-size="22" text-anchor="middle" font-weight="bold" >1.0</text>
<text x="1010.4" y="1119.4" font-size="25" text-anchor="middle" >Habitat Quality</text>
<path d="M137.51 1168.9H211.33M109.2 1174.57H205.67M58.23 1180.24H200M58.23 1185.91H194.34M52.57 1191.58H194.34M52.57 1197.25H200M46.9 1202.92H205.67M41.24 1208.59H205.67M46.9 1214.26H211.33M41.24 1219.93H216.99M12.92 1219.93H30.11M12.92 1225.6H216.99M7.26 1231.27H222.66M12.92 1236.94H228.32M7.26 1242.61H233.98M7.26 1248.28H233.98M35.58 1253.95H239.64M75.22 1259.62H245.31M29.91 1259.62H52.77M75.22 1265.29H250.97M41.24 1265.29H41.44M75.22 1270.96H250.97M75.22 1276.63H256.63M80.88 1282.3H262.3M80.88 1287.97H267.96M86.54 1293.64H267.96M86.54 1299.31H273.62M109.2 1304.98H279.29M97.87 1304.98H98.07M131.85 1310.65H279.29M131.85 1316.32H284.95M131.85 1321.99H290.61M126.19 1327.66H290.61M120.52 1333.33H296.28M120.52 1339H301.94M120.52 1344.67H301.94M114.86 1350.34H307.6M114.86 1356.01H313.26M114.86 1361.68H313.26M114.86 1367.35H318.93M120.52 1373.02H324.59M126.19 1378.69H324.59M126.19 1384.36H330.25M126.19 1390.03H335.92M131.85 1395.7H335.92M137.51 1401.37H341.58M137.51 1407.04H347.24M137.51 1412.71H347.24M188.48 1418.38H352.91M143.17 1418.38H143.37M199.8 1424.05H358.57M199.8 1429.72H358.57M199.8 1435.39H364.23M199.8 1441.06H369.89M194.14 1446.73H369.89M188.48 1452.4H369.89M188.48 1458.07H375.56M182.81 1463.74H375.56M188.48 1469.41H375.56M182.81 1475.08H375.56M177.15 1480.75H381.22M188.48 1486.42H381.22M194.14 1492.09H381.22M194.14 1497.76H386.88M194.14 1503.43H386.88M194.14 1509.1H386.88M194.14 1514.77H392.55M199.8 1520.44H392.55M205.47 1526.11H392.55M199.8 1531.78H398.21M205.47 1537.45H398.21M199.8 1543.12H398.21M211.13 1548.79H398.21M222.46 1554.46H403.87M222.46 1560.13H403.87M250.77 1565.8H403.87M250.77 1571.47H409.54M256.43 1577.14H409.54M307.4 1582.81H409.54M256.43 1582.81H296.28M313.06 1588.48H415.2M262.1 1588.48H284.95M318.73 1594.15H415.2M279.09 1594.15H279.29M330.05 1599.82H415.2M347.04 1605.49H420.86M358.37 1611.16H420.86M386.68 1616.83H420.86M415 1622.5H420.86" stroke="#e4e4e4" stroke-width="6.34" stroke-linecap="round" stroke-dasharray="0 5.663" fill="none"/>
<path d="" stroke="#e4e4e4" stroke-width="6.34" stroke-linecap="round" stroke-dasharray="0 5.663" fill="none"/>
<path d="M97.87 1168.9H98.07M58.23 1180.24H58.43M86.54 1185.91H86.74M97.87 1214.26H98.07M148.84 1242.61H149.04M143.17 1248.28H143.37M154.5 1248.28H154.7M148.84 1270.96H149.04M109.2 1287.97H109.4M239.44 1316.32H250.97M239.44 1321.99H239.64M239.44 1327.66H239.64M222.46 1344.67H222.66M222.46 1350.34H228.32M279.09 1350.34H290.61M228.12 1356.01H228.32M273.42 1356.01H273.62M296.08 1356.01H296.28M279.09 1361.68H290.61M239.44 1367.35H239.64M245.11 1384.36H245.31M126.19 1390.03H126.39M318.73 1395.7H318.93M262.1 1401.37H262.3M267.76 1407.04H267.96M154.5 1412.71H160.36M279.09 1412.71H279.29M313.06 1412.71H313.26M262.1 1418.38H262.3M284.75 1418.38H284.95M313.06 1418.38H313.26M284.75 1424.05H290.61M301.74 1424.05H307.6M290.41 1429.72H290.61M301.74 1429.72H307.6M194.14 1446.73H194.34M279.09 1446.73H279.29M279.09 1452.4H279.29M267.76 1475.08H267.96M301.74 1475.08H301.94M273.42 1480.75H273.62M358.37 1480.75H369.89M358.37 1492.09H358.57M324.39 1509.1H341.58M364.03 1509.1H364.23M381.02 1509.1H381.22M358.37 1520.44H358.57M250.77 1531.78H250.97M335.72 1537.45H335.92M330.05 1543.12H330.25M273.42 1554.46H273.62M273.42 1560.13H273.62M279.09 1588.48H279.29M279.09 1594.15H279.29M330.05 1594.15H330.25" stroke="#c3e6fc" stroke-width="7.69" stroke-linecap="round" stroke-dasharray="0 5.663" fill="none"/>
<path d="M86.54 1174.57H86.74M148.84 1231.27H149.04M137.51 1253.95H137.71M29.91 1259.62H35.78M267.76 1299.31H273.62M262.1 1304.98H279.29M262.1 1310.65H284.95M256.43 1316.32H290.61M245.11 1321.99H290.61M245.11 1327.66H296.28M239.44 1333.33H296.28M222.46 1339H222.66M233.78 1339H301.94M233.78 1344.67H307.6M233.78 1350.34H273.62M296.08 1350.34H313.26M239.44 1356.01H267.96M301.74 1356.01H318.93M239.44 1361.68H273.62M296.08 1361.68H318.93M245.11 1367.35H324.59M245.11 1373.02H324.59M245.11 1378.69H324.59M250.77 1384.36H324.59M250.77 1390.03H273.62M284.75 1390.03H318.93M256.43 1395.7H267.96M290.41 1395.7H313.26M250.77 1401.37H250.97M267.76 1401.37H267.96M284.75 1401.37H318.93M284.75 1407.04H284.95M296.08 1407.04H313.26M267.76 1412.71H267.96M284.75 1412.71H284.95M307.4 1412.71H307.6M267.76 1418.38H273.62M290.41 1418.38H296.28M307.4 1418.38H307.6M262.1 1424.05H273.62M296.08 1424.05H296.28M262.1 1429.72H273.62M262.1 1435.39H279.29M273.42 1441.06H279.29M273.42 1446.73H273.62M273.42 1452.4H273.62M256.43 1458.07H256.63M279.09 1458.07H279.29M256.43 1463.74H256.63M279.09 1463.74H290.61M267.76 1469.41H296.28M273.42 1475.08H273.62M301.74 1480.75H301.94M375.36 1480.75H375.56M279.09 1486.42H296.28M358.37 1486.42H381.22M216.79 1492.09H216.99M296.08 1492.09H296.28M364.03 1492.09H381.22M216.79 1497.76H222.66M352.71 1497.76H381.22M347.04 1503.43H364.23M375.36 1503.43H381.22M347.04 1509.1H358.57M301.74 1514.77H301.94M324.39 1514.77H324.59M335.72 1514.77H341.58M358.37 1514.77H358.57M228.12 1520.44H228.32M324.39 1520.44H324.59M335.72 1526.11H341.58M352.71 1526.11H352.91M330.05 1531.78H330.25M347.04 1531.78H347.24M324.39 1537.45H324.59M324.39 1543.12H324.59M330.05 1548.79H330.25M318.73 1554.46H318.93M267.76 1565.8H267.96M284.75 1588.48H284.95M335.72 1599.82H335.92" stroke="#74b3fb" stroke-width="7.69" stroke-linecap="round" stroke-dasharray="0 5.663" fill="none"/>
<path d="M92.21 1168.9H92.41M97.87 1174.57H98.07M228.12 1344.67H228.32M279.09 1390.03H279.29M250.77 1395.7H250.97M273.42 1395.7H284.95M273.42 1401.37H279.29M273.42 1407.04H279.29M290.41 1407.04H290.61M273.42 1412.71H273.62M290.41 1412.71H301.94M279.09 1418.38H279.29M301.74 1418.38H301.94M279.09 1424.05H279.29M279.09 1429.72H284.95M284.75 1435.39H284.95M262.1 1441.06H267.96M262.1 1446.73H267.96M262.1 1452.4H267.96M262.1 1458.07H273.62M262.1 1463.74H273.62M262.1 1469.41H262.3M279.09 1475.08H296.28M216.79 1480.75H216.99M279.09 1480.75H296.28M216.79 1486.42H216.99M296.08 1509.1H296.28M330.05 1514.77H330.25M347.04 1514.77H352.91M330.05 1520.44H352.91M347.04 1526.11H347.24M318.73 1543.12H318.93M313.06 1548.79H324.59M324.39 1554.46H324.59M273.42 1588.48H273.62" stroke="#4878bb" stroke-width="7.69" stroke-linecap="round" stroke-dasharray="0 5.663" fill="none"/>
<polyline points="105.7,1171.4 99,1173 92.1,1175.3 89.6,1185.4 87.9,1197.3 91.3,1209.1 101.4,1210.8 108.2,1213.3 116.6,1212.5 120,1217.5 115.8,1222.6 118.3,1227.7 128.5,1234.5 135.2,1239.5 133.5,1244.6 140.3,1242.9 148.8,1249.7 162.3,1254.7 179.2,1263.2 197.8,1271.6 199.5,1276.7 202.9,1295.3 211.3,1315.6 218.1,1332.5 219.8,1339.3 211.3,1344.3 219.8,1339.3 227,1346 229.6,1355.3 221.1,1360.4 227,1369.7 238.9,1378.1 242.3,1391.7 240.6,1395 249,1405.2 255.8,1420.4 258.3,1432.2 252.4,1432.2 259.2,1442.4 264,1464.2 259.8,1474.4 269.1,1486.2 264,1487.9 277.5,1495.5 291.1,1503.1 296.1,1506.5 306.3,1508.2 314.7,1518.3 316.4,1535.2 309.7,1538.6 316.4,1540.3 323.2,1548.8 333.3,1552.1 346.9,1558.9 358.7,1572.4 363.8,1584.3 369.7,1599.5 363.8,1604.5" fill="none" stroke="#3a3a3a" stroke-width="1.1" stroke-dasharray="3 2.2" stroke-linejoin="round"/>
<path d="M578.71 1182.6H652.53M550.4 1188.27H646.87M499.43 1193.94H641.2M499.43 1199.61H635.54M493.77 1205.28H635.54M493.77 1210.95H641.2M488.1 1216.62H646.87M482.44 1222.29H646.87M488.1 1227.96H652.53M482.44 1233.63H658.19M454.12 1233.63H471.31M454.12 1239.3H658.19M448.46 1244.97H663.86M454.12 1250.64H669.52M448.46 1256.31H675.18M448.46 1261.98H675.18M476.78 1267.65H680.85M516.42 1273.32H686.51M471.11 1273.32H493.97M516.42 1278.99H692.17M482.44 1278.99H482.64M516.42 1284.66H692.17M516.42 1290.33H697.83M522.08 1296H703.5M522.08 1301.67H709.16M527.74 1307.34H709.16M527.74 1313.01H714.82M550.4 1318.68H720.49M539.07 1318.68H539.27M573.05 1324.35H720.49M573.05 1330.02H726.15M573.05 1335.69H731.81M567.38 1341.36H731.81M561.72 1347.03H737.48M561.72 1352.7H743.14M561.72 1358.37H743.14M556.06 1364.04H748.8M556.06 1369.71H754.46M556.06 1375.38H754.46M556.06 1381.05H760.13M561.72 1386.72H765.79M567.38 1392.39H765.79M567.38 1398.06H771.45M567.38 1403.73H777.12M573.05 1409.4H777.12M578.71 1415.07H782.78M578.71 1420.74H788.44M578.71 1426.41H788.44M629.68 1432.08H794.11M584.37 1432.08H584.57M641 1437.75H799.77M641 1443.42H799.77M641 1449.09H805.43M641 1454.76H811.09M635.34 1460.43H811.09M629.68 1466.1H811.09M629.68 1471.77H816.76M624.02 1477.44H816.76M629.68 1483.11H816.76M624.02 1488.78H816.76M618.35 1494.45H822.42M629.68 1500.12H822.42M635.34 1505.79H822.42M635.34 1511.46H828.08M635.34 1517.13H828.08M635.34 1522.8H828.08M635.34 1528.47H833.75M641 1534.14H833.75M646.67 1539.81H833.75M641 1545.48H839.41M646.67 1551.15H839.41M641 1556.82H839.41M652.33 1562.49H839.41M663.66 1568.16H845.07M663.66 1573.83H845.07M691.97 1579.5H845.07M691.97 1585.17H850.74M697.63 1590.84H850.74M748.6 1596.51H850.74M697.63 1596.51H737.48M754.26 1602.18H856.4M703.3 1602.18H726.15M759.93 1607.85H856.4M720.29 1607.85H720.49M771.25 1613.52H856.4M788.24 1619.19H862.06M799.57 1624.86H862.06M827.88 1630.53H862.06M856.2 1636.2H862.06" stroke="#e4e4e4" stroke-width="6.34" stroke-linecap="round" stroke-dasharray="0 5.663" fill="none"/>
<path d="M533.41 1182.6H539.27M527.74 1188.27H544.93" stroke="#e4e4e4" stroke-width="6.34" stroke-linecap="round" stroke-dasharray="0 5.663" fill="none"/>
<path d="M539.07 1199.61H544.93M550.4 1205.28H550.6M493.77 1210.95H493.97M550.4 1210.95H550.6M561.72 1210.95H561.92M488.1 1216.62H488.3M527.74 1227.96H527.94M550.4 1227.96H550.6M454.12 1233.63H454.32M550.4 1233.63H550.6M454.12 1239.3H454.32M459.79 1244.97H459.99M550.4 1244.97H550.6M550.4 1250.64H550.6M567.38 1261.98H573.25M584.37 1261.98H584.57M646.67 1261.98H652.53M584.37 1267.65H584.57M674.98 1273.32H675.18M573.05 1278.99H573.25M641 1278.99H641.2M703.3 1307.34H703.5M697.63 1313.01H697.83M691.97 1318.68H692.17M573.05 1324.35H573.25M669.32 1324.35H669.52M573.05 1341.36H573.25M590.04 1341.36H590.24M612.69 1341.36H612.89M595.7 1347.03H595.9M674.98 1375.38H675.18M624.02 1392.39H624.22M584.37 1426.41H584.57M612.69 1426.41H612.89M765.59 1437.75H765.79M731.61 1454.76H731.81M742.94 1454.76H743.14M725.95 1460.43H726.15M737.28 1460.43H737.48M748.6 1460.43H748.8M725.95 1466.1H726.15M737.28 1466.1H737.48M765.59 1483.11H765.79M748.6 1488.78H748.8M759.93 1494.45H760.13M759.93 1500.12H760.13M708.96 1505.79H709.16M759.93 1505.79H760.13M725.95 1522.8H726.15M725.95 1528.47H726.15M805.23 1556.82H805.43M822.22 1556.82H822.42M833.55 1562.49H833.75M674.98 1568.16H675.18M788.24 1579.5H788.44M827.88 1585.17H828.08M827.88 1590.84H828.08M839.21 1602.18H839.41M844.87 1607.85H845.07M822.22 1613.52H822.42M850.54 1613.52H850.74M805.23 1619.19H805.43M827.88 1619.19H828.08M856.2 1619.19H856.4M805.23 1624.86H805.43M833.55 1624.86H839.41M861.86 1624.86H862.06M839.21 1630.53H839.41" stroke="#c3e6fc" stroke-width="7.69" stroke-linecap="round" stroke-dasharray="0 5.663" fill="none"/>
<path d="M539.07 1205.28H539.27M539.07 1210.95H539.27M499.43 1216.62H499.63M527.74 1216.62H527.94M539.07 1216.62H539.27M539.07 1222.29H539.27M544.73 1227.96H544.93M573.05 1250.64H573.25M573.05 1256.31H573.25M556.06 1261.98H556.26M680.65 1273.32H686.51M561.72 1278.99H561.92M595.7 1278.99H595.9M646.67 1278.99H652.53M663.66 1278.99H669.52M680.65 1284.66H692.17M641 1290.33H641.2M674.98 1290.33H675.18M691.97 1290.33H697.83M646.67 1296H646.87M680.65 1296H686.51M646.67 1301.67H646.87M703.3 1301.67H703.5M646.67 1307.34H646.87M646.67 1313.01H646.87M578.71 1318.68H578.91M652.33 1318.68H652.53M674.98 1318.68H686.51M657.99 1324.35H663.86M573.05 1335.69H573.25M595.7 1352.7H595.9M607.03 1352.7H607.23M601.36 1358.37H601.56M669.32 1381.05H675.18M674.98 1386.72H675.18M578.71 1409.4H578.91M578.71 1420.74H578.91M618.35 1420.74H618.55M691.97 1420.74H692.17M686.31 1426.41H697.83M691.97 1432.08H692.17M737.28 1454.76H737.48M731.61 1460.43H731.81M742.94 1460.43H743.14M731.61 1466.1H731.81M742.94 1466.1H743.14M731.61 1471.77H737.48M748.6 1471.77H748.8M793.91 1471.77H794.11M737.28 1477.44H737.48M748.6 1477.44H748.8M759.93 1477.44H765.79M742.94 1483.11H748.8M754.26 1488.78H754.46M618.35 1494.45H618.55M748.6 1494.45H754.46M708.96 1500.12H714.82M748.6 1500.12H754.46M714.62 1505.79H714.82M748.6 1505.79H754.46M748.6 1511.46H754.46M754.26 1517.13H754.46M748.6 1522.8H748.8M748.6 1528.47H748.8M725.95 1539.81H726.15M641 1556.82H641.2M776.92 1556.82H782.78M810.89 1556.82H816.76M799.57 1562.49H799.77M827.88 1562.49H828.08M827.88 1568.16H833.75M674.98 1573.83H675.18M827.88 1573.83H828.08M793.91 1579.5H794.11M827.88 1579.5H828.08M731.61 1590.84H731.81M805.23 1590.84H805.43M822.22 1590.84H822.42M805.23 1596.51H805.43M822.22 1596.51H822.42M810.89 1602.18H811.09M822.22 1602.18H833.75M810.89 1607.85H811.09M822.22 1607.85H822.42M839.21 1607.85H839.41M810.89 1613.52H816.76M827.88 1613.52H828.08M844.87 1613.52H845.07M833.55 1619.19H833.75M850.54 1619.19H850.74M856.2 1624.86H856.4M844.87 1630.53H845.07M861.86 1630.53H862.06M856.2 1636.2H862.06" stroke="#74b3fb" stroke-width="7.69" stroke-linecap="round" stroke-dasharray="0 5.663" fill="none"/>
<path d="M544.73 1205.28H544.93M533.41 1210.95H533.61M544.73 1210.95H544.93M533.41 1216.62H533.61M527.74 1222.29H533.61M533.41 1227.96H533.61M561.72 1239.3H561.92M556.06 1244.97H567.59M454.12 1250.64H454.32M556.06 1250.64H567.59M556.06 1256.31H567.59M595.7 1267.65H595.9M595.7 1273.32H601.56M601.36 1278.99H601.56M657.99 1278.99H658.19M674.98 1278.99H686.51M567.38 1284.66H567.59M641 1284.66H675.18M646.67 1290.33H669.52M652.33 1296H675.18M691.97 1296H697.83M652.33 1301.67H697.83M652.33 1307.34H697.83M652.33 1313.01H692.17M657.99 1318.68H669.52M612.69 1375.38H612.89M669.32 1375.38H669.52M607.03 1381.05H607.23M573.05 1409.4H573.25M578.71 1426.41H578.91M618.35 1426.41H618.55M748.6 1466.1H748.8M742.94 1471.77H743.14M742.94 1477.44H743.14M703.3 1494.45H709.16M703.3 1500.12H703.5M725.95 1517.13H726.15M748.6 1517.13H748.8M754.26 1522.8H754.46M754.26 1528.47H760.13M725.95 1534.14H726.15M776.92 1562.49H782.78M805.23 1562.49H822.42M771.25 1568.16H822.42M776.92 1573.83H822.42M799.57 1579.5H822.42M805.23 1585.17H822.42M810.89 1590.84H816.76M810.89 1596.51H816.76M816.56 1602.18H816.76M816.56 1607.85H816.76M827.88 1607.85H833.75M833.55 1613.52H839.41M810.89 1619.19H816.76M839.21 1619.19H845.07M810.89 1624.86H816.76M844.87 1624.86H850.74M850.54 1630.53H856.4" stroke="#4878bb" stroke-width="7.69" stroke-linecap="round" stroke-dasharray="0 5.663" fill="none"/>
<polyline points="546.9,1185.1 540.2,1186.7 533.3,1189 530.8,1199.1 529.1,1211 532.5,1222.8 542.6,1224.5 549.4,1227 557.8,1226.2 561.2,1231.2 557,1236.3 559.5,1241.4 569.7,1248.2 576.4,1253.2 574.7,1258.3 581.5,1256.6 590,1263.4 603.5,1268.4 620.4,1276.9 639,1285.3 640.7,1290.4 644.1,1309 652.5,1329.3 659.3,1346.2 661,1353 652.5,1358 661,1353 668.2,1359.7 670.8,1369 662.3,1374.1 668.2,1383.4 680.1,1391.8 683.5,1405.4 681.8,1408.7 690.2,1418.9 697,1434.1 699.5,1445.9 693.6,1445.9 700.4,1456.1 705.2,1477.9 701,1488.1 710.3,1499.9 705.2,1501.6 718.7,1509.2 732.3,1516.8 737.3,1520.2 747.5,1521.9 755.9,1532 757.6,1548.9 750.9,1552.3 757.6,1554 764.4,1562.5 774.5,1565.8 788.1,1572.6 799.9,1586.1 805,1598 810.9,1613.2 805,1618.2" fill="none" stroke="#3a3a3a" stroke-width="1.1" stroke-dasharray="3 2.2" stroke-linejoin="round"/>
<path d="M1015.01 1182.6H1088.83M986.7 1188.27H1083.17M935.73 1193.94H1077.5M935.73 1199.61H1071.84M930.07 1205.28H1071.84M930.07 1210.95H1077.5M924.4 1216.62H1083.17M918.74 1222.29H1083.17M924.4 1227.96H1088.83M918.74 1233.63H1094.49M890.42 1233.63H907.61M890.42 1239.3H1094.49M884.76 1244.97H1100.16M890.42 1250.64H1105.82M884.76 1256.31H1111.48M884.76 1261.98H1111.48M913.08 1267.65H1117.14M952.72 1273.32H1122.81M907.41 1273.32H930.27M952.72 1278.99H1128.47M918.74 1278.99H918.94M952.72 1284.66H1128.47M952.72 1290.33H1134.13M958.38 1296H1139.8M958.38 1301.67H1145.46M964.04 1307.34H1145.46M964.04 1313.01H1151.12M986.7 1318.68H1156.79M975.37 1318.68H975.57M1009.35 1324.35H1156.79M1009.35 1330.02H1162.45M1009.35 1335.69H1168.11M1003.68 1341.36H1168.11M998.02 1347.03H1173.78M998.02 1352.7H1179.44M998.02 1358.37H1179.44M992.36 1364.04H1185.1M992.36 1369.71H1190.76M992.36 1375.38H1190.76M992.36 1381.05H1196.43M998.02 1386.72H1202.09M1003.68 1392.39H1202.09M1003.68 1398.06H1207.75M1003.68 1403.73H1213.42M1009.35 1409.4H1213.42M1015.01 1415.07H1219.08M1015.01 1420.74H1224.74M1015.01 1426.41H1224.74M1065.98 1432.08H1230.4M1020.67 1432.08H1020.87M1077.3 1437.75H1236.07M1077.3 1443.42H1236.07M1077.3 1449.09H1241.73M1077.3 1454.76H1247.39M1071.64 1460.43H1247.39M1065.98 1466.1H1247.39M1065.98 1471.77H1253.06M1060.32 1477.44H1253.06M1065.98 1483.11H1253.06M1060.32 1488.78H1253.06M1054.65 1494.45H1258.72M1065.98 1500.12H1258.72M1071.64 1505.79H1258.72M1071.64 1511.46H1264.38M1071.64 1517.13H1264.38M1071.64 1522.8H1264.38M1071.64 1528.47H1270.05M1077.3 1534.14H1270.05M1082.97 1539.81H1270.05M1077.3 1545.48H1275.71M1082.97 1551.15H1275.71M1077.3 1556.82H1275.71M1088.63 1562.49H1275.71M1099.96 1568.16H1281.37M1099.96 1573.83H1281.37M1128.27 1579.5H1281.37M1128.27 1585.17H1287.04M1133.93 1590.84H1287.04M1184.9 1596.51H1287.04M1133.93 1596.51H1173.78M1190.56 1602.18H1292.7M1139.6 1602.18H1162.45M1196.23 1607.85H1292.7M1156.59 1607.85H1156.79M1207.55 1613.52H1292.7M1224.54 1619.19H1298.36M1235.87 1624.86H1298.36M1264.18 1630.53H1298.36M1292.5 1636.2H1298.36" stroke="#e4e4e4" stroke-width="6.34" stroke-linecap="round" stroke-dasharray="0 5.663" fill="none"/>
<path d="M975.37 1182.6H975.57M969.71 1188.27H969.91M981.03 1188.27H981.23" stroke="#e4e4e4" stroke-width="6.34" stroke-linecap="round" stroke-dasharray="0 5.663" fill="none"/>
<path d="M964.04 1188.27H964.24M969.71 1216.62H969.91M964.04 1222.29H964.24M975.37 1233.63H975.57M1009.35 1256.31H1009.55M1015.01 1261.98H1015.21M1020.67 1267.65H1020.87M1032 1267.65H1032.2M1122.61 1273.32H1122.81M1122.61 1278.99H1122.81M1077.3 1284.66H1077.5M1111.28 1284.66H1117.14M1128.27 1284.66H1128.47M1077.3 1290.33H1077.5M1116.94 1290.33H1122.81M1133.93 1290.33H1134.13M1139.6 1296H1139.8M1145.26 1301.67H1145.46M1150.92 1307.34H1151.12M1156.59 1313.01H1156.79M1156.59 1318.68H1156.79M1162.25 1324.35H1162.45M1167.91 1330.02H1168.11M1048.99 1335.69H1049.19M1167.91 1335.69H1168.11M1173.58 1341.36H1173.78M1173.58 1347.03H1173.78M1179.24 1352.7H1179.44M1184.9 1358.37H1185.1M1099.96 1364.04H1100.16M1184.9 1364.04H1185.1M1190.56 1369.71H1190.76M1048.99 1375.38H1049.19M1196.23 1375.38H1196.43M1048.99 1381.05H1049.19M1116.94 1381.05H1117.14M1201.89 1381.05H1202.09M1122.61 1386.72H1122.81M1201.89 1386.72H1202.09M1179.24 1409.4H1179.44M1179.24 1415.07H1179.44M1179.24 1420.74H1179.44M1150.92 1426.41H1151.12M1179.24 1426.41H1179.44M1139.6 1432.08H1139.8M1150.92 1432.08H1151.12M1162.25 1432.08H1162.45M1179.24 1432.08H1179.44M1139.6 1437.75H1139.8M1167.91 1437.75H1179.44M1139.6 1443.42H1139.8M1150.92 1443.42H1156.79M1167.91 1443.42H1179.44M1156.59 1449.09H1156.79M1167.91 1449.09H1173.78M1150.92 1454.76H1151.12M1167.91 1454.76H1168.11M1179.24 1454.76H1179.44M1150.92 1460.43H1156.79M1167.91 1460.43H1168.11M1179.24 1460.43H1179.44M1150.92 1466.1H1151.12M1167.91 1466.1H1168.11M1179.24 1466.1H1179.44M1167.91 1471.77H1168.11M1133.93 1477.44H1134.13M1162.25 1477.44H1162.45M1184.9 1483.11H1185.1M1184.9 1488.78H1185.1M1156.59 1511.46H1156.79M1179.24 1511.46H1179.44M1156.59 1517.13H1162.45M1179.24 1517.13H1179.44M1162.25 1522.8H1162.45M1184.9 1528.47H1185.1M1218.88 1562.49H1219.08M1264.18 1562.49H1264.38M1196.23 1568.16H1196.43M1269.85 1568.16H1270.05M1258.52 1602.18H1258.72M1252.86 1613.52H1253.06M1286.84 1613.52H1287.04M1252.86 1619.19H1253.06M1292.5 1624.86H1292.7M1298.16 1630.53H1298.36M1292.5 1636.2H1298.36" stroke="#c3e6fc" stroke-width="7.69" stroke-linecap="round" stroke-dasharray="0 5.663" fill="none"/>
<path d="M975.37 1222.29H975.57M975.37 1227.96H975.57M998.02 1239.3H998.22M1003.68 1256.31H1003.88M1009.35 1261.98H1009.55M1020.67 1261.98H1020.87M1015.01 1267.65H1015.21M1032 1273.32H1032.2M1037.66 1278.99H1037.86M1094.29 1278.99H1094.49M1111.28 1278.99H1117.14M1003.68 1284.66H1003.88M1082.97 1284.66H1105.82M1122.61 1284.66H1122.81M1082.97 1290.33H1111.48M1128.27 1290.33H1128.47M1082.97 1296H1134.13M1088.63 1301.67H1139.8M1088.63 1307.34H1145.46M1088.63 1313.01H1105.82M1133.93 1313.01H1151.12M1094.29 1318.68H1100.16M1139.6 1318.68H1151.12M1139.6 1324.35H1156.79M1145.26 1330.02H1162.45M1054.65 1335.69H1054.85M1150.92 1335.69H1162.45M1145.26 1341.36H1168.11M1088.63 1347.03H1094.49M1145.26 1347.03H1168.11M1145.26 1352.7H1173.78M1139.6 1358.37H1179.44M1133.93 1364.04H1151.12M1173.58 1364.04H1179.44M1099.96 1369.71H1100.16M1111.28 1369.71H1145.46M1179.24 1369.71H1185.1M1105.62 1375.38H1151.12M1173.58 1375.38H1190.76M1043.33 1381.05H1043.53M1122.61 1381.05H1196.43M1048.99 1386.72H1049.19M1128.27 1386.72H1196.43M1122.61 1392.39H1196.43M1128.27 1398.06H1185.1M1128.27 1403.73H1179.44M1128.27 1409.4H1173.78M1128.27 1415.07H1134.13M1145.26 1415.07H1173.78M1150.92 1420.74H1173.78M1015.01 1426.41H1015.21M1133.93 1426.41H1134.13M1162.25 1426.41H1173.78M1156.59 1432.08H1156.79M1167.91 1432.08H1173.78M1145.26 1437.75H1156.79M1145.26 1443.42H1145.46M1162.25 1443.42H1162.45M1145.26 1449.09H1151.12M1162.25 1449.09H1162.45M1145.26 1454.76H1145.46M1162.25 1454.76H1162.45M1173.58 1454.76H1173.78M1139.6 1460.43H1145.46M1162.25 1460.43H1162.45M1173.58 1460.43H1173.78M1139.6 1466.1H1145.46M1162.25 1466.1H1162.45M1173.58 1466.1H1173.78M1065.98 1471.77H1066.18M1150.92 1471.77H1162.45M1179.24 1471.77H1179.44M1150.92 1477.44H1156.79M1167.91 1477.44H1179.44M1150.92 1483.11H1156.79M1179.24 1483.11H1179.44M1145.26 1488.78H1156.79M1179.24 1494.45H1190.76M1139.6 1500.12H1139.8M1167.91 1500.12H1190.76M1139.6 1505.79H1145.46M1156.59 1505.79H1156.79M1184.9 1505.79H1190.76M1190.56 1511.46H1190.76M1190.56 1522.8H1190.76M1179.24 1528.47H1179.44M1190.56 1528.47H1190.76M1190.56 1534.14H1190.76M1213.22 1562.49H1213.42M1241.53 1562.49H1258.72M1201.89 1568.16H1202.09M1230.2 1568.16H1258.72M1111.28 1573.83H1111.48M1207.55 1573.83H1207.75M1235.87 1573.83H1258.72M1241.53 1579.5H1258.72M1241.53 1585.17H1258.72M1247.19 1590.84H1253.06M1247.19 1596.51H1253.06M1247.19 1602.18H1253.06M1247.19 1607.85H1253.06M1264.18 1607.85H1275.71M1247.19 1613.52H1247.39M1269.85 1613.52H1281.37M1247.19 1619.19H1247.39M1275.51 1619.19H1287.04M1247.19 1624.86H1247.39M1281.17 1624.86H1287.04M1292.5 1630.53H1292.7" stroke="#74b3fb" stroke-width="7.69" stroke-linecap="round" stroke-dasharray="0 5.663" fill="none"/>
<path d="M969.71 1182.6H969.91M975.37 1188.27H975.57M969.71 1222.29H969.91M969.71 1227.96H969.91M890.42 1250.64H890.62M998.02 1250.64H998.22M1015.01 1256.31H1015.21M1037.66 1267.65H1037.86M1037.66 1273.32H1037.86M1032 1278.99H1032.2M1105.62 1369.71H1105.82M1009.35 1409.4H1009.55M1015.01 1420.74H1015.21M1020.67 1426.41H1020.87M1139.6 1454.76H1139.8M1065.98 1466.1H1066.18M1139.6 1471.77H1145.46M1139.6 1477.44H1145.46M1139.6 1483.11H1145.46M1167.91 1483.11H1173.78M1139.6 1488.78H1139.8M1162.25 1488.78H1179.44M1139.6 1494.45H1173.78M1145.26 1500.12H1162.45M1150.92 1505.79H1151.12M1162.25 1505.79H1162.45M1173.58 1522.8H1173.78M1196.23 1528.47H1196.43M1196.23 1556.82H1196.43M1190.56 1562.49H1207.75M1207.55 1568.16H1224.74M1213.22 1573.83H1230.4M1252.86 1624.86H1253.06" stroke="#4878bb" stroke-width="7.69" stroke-linecap="round" stroke-dasharray="0 5.663" fill="none"/>
<polyline points="983.2,1185.1 976.5,1186.7 969.6,1189 967.1,1199.1 965.4,1211 968.8,1222.8 978.9,1224.5 985.7,1227 994.1,1226.2 997.5,1231.2 993.3,1236.3 995.8,1241.4 1006,1248.2 1012.7,1253.2 1011,1258.3 1017.8,1256.6 1026.3,1263.4 1039.8,1268.4 1056.7,1276.9 1075.3,1285.3 1077,1290.4 1080.4,1309 1088.8,1329.3 1095.6,1346.2 1097.3,1353 1088.8,1358 1097.3,1353 1104.5,1359.7 1107.1,1369 1098.6,1374.1 1104.5,1383.4 1116.4,1391.8 1119.8,1405.4 1118.1,1408.7 1126.5,1418.9 1133.3,1434.1 1135.8,1445.9 1129.9,1445.9 1136.7,1456.1 1141.5,1477.9 1137.3,1488.1 1146.6,1499.9 1141.5,1501.6 1155,1509.2 1168.6,1516.8 1173.6,1520.2 1183.8,1521.9 1192.2,1532 1193.9,1548.9 1187.2,1552.3 1193.9,1554 1200.7,1562.5 1210.8,1565.8 1224.4,1572.6 1236.2,1586.1 1241.3,1598 1247.2,1613.2 1241.3,1618.2" fill="none" stroke="#3a3a3a" stroke-width="1.1" stroke-dasharray="3 2.2" stroke-linejoin="round"/>
<text x="206" y="1666.8" font-size="25.2" text-anchor="middle" >2010-2015</text>
<text x="708" y="1663.5" font-size="25.2" text-anchor="middle" >2015-2020</text>
<text x="1142" y="1663.5" font-size="25.2" text-anchor="middle" >2010-2020</text>
<line x1="116" y1="1709.3" x2="143" y2="1709.3" stroke="#555" stroke-width="1" stroke-dasharray="3 2.2"/>
<text x="150.5" y="1715.2" font-size="19" >Coastline</text>
<circle cx="284.9" cy="1711.6" r="5" fill="#4878bb"/>
<text x="306.5" y="1715" font-size="19" >Severely Degraded Area</text>
<circle cx="555.4" cy="1711.6" r="5" fill="#74b3fb"/>
<text x="573.4" y="1715" font-size="19" >Moderately Degraded Area</text>
<circle cx="845.2" cy="1710.7" r="5" fill="#c3e6fc"/>
<text x="868.2" y="1717" font-size="19" >Mildly Degraded Area</text>
<circle cx="1108" cy="1708.4" r="5.5" fill="#e4e4e4"/>
<text x="1127.4" y="1715.2" font-size="19" >Optimal Area</text>
<circle cx="1239.3" cy="1199.3" r="22" fill="#fff" stroke="#000" stroke-width="2.6"/>
<circle cx="1239.3" cy="1199.3" r="19.4" fill="none" stroke="#000" stroke-width="0.5"/>
<polygon points="1252.7,1185.9 1239.3,1193.7 1239.3,1199.3" fill="#000" />
<polygon points="1252.7,1185.9 1244.9,1199.3 1239.3,1199.3" fill="#fff" stroke="#000" stroke-width="0.4"/>
<polygon points="1252.7,1212.7 1244.9,1199.3 1239.3,1199.3" fill="#000" />
<polygon points="1252.7,1212.7 1239.3,1204.9 1239.3,1199.3" fill="#fff" stroke="#000" stroke-width="0.4"/>
<polygon points="1225.9,1212.7 1239.3,1204.9 1239.3,1199.3" fill="#000" />
<polygon points="1225.9,1212.7 1233.7,1199.3 1239.3,1199.3" fill="#fff" stroke="#000" stroke-width="0.4"/>
<polygon points="1225.9,1185.9 1233.7,1199.3 1239.3,1199.3" fill="#000" />
<polygon points="1225.9,1185.9 1239.3,1193.7 1239.3,1199.3" fill="#fff" stroke="#000" stroke-width="0.4"/>
<polygon points="1239.3,1172.3 1244,1194.6 1239.3,1199.3" fill="#000" />
<polygon points="1239.3,1172.3 1234.6,1194.6 1239.3,1199.3" fill="#fff" stroke="#000" stroke-width="0.45"/>
<polygon points="1266.3,1199.3 1244,1204 1239.3,1199.3" fill="#000" />
<polygon points="1266.3,1199.3 1244,1194.6 1239.3,1199.3" fill="#fff" stroke="#000" stroke-width="0.45"/>
<polygon points="1239.3,1226.3 1234.6,1204 1239.3,1199.3" fill="#000" />
<polygon points="1239.3,1226.3 1244,1204 1239.3,1199.3" fill="#fff" stroke="#000" stroke-width="0.45"/>
<polygon points="1212.3,1199.3 1234.6,1194.6 1239.3,1199.3" fill="#000" />
<polygon points="1212.3,1199.3 1234.6,1204 1239.3,1199.3" fill="#fff" stroke="#000" stroke-width="0.45"/>
<text x="1239.6" y="1168.9" font-size="13.5" text-anchor="middle" >N</text>
<text x="1239.6" y="1238.7" font-size="13.5" text-anchor="middle" >S</text>
<text x="1204.9" y="1203.5" font-size="12.5" text-anchor="middle" >W</text>
<text x="1272.8" y="1204.7" font-size="13.5" text-anchor="middle" >E</text>
<path d="M1216 1281.6V1293.7M1272.8 1281.6V1293.7M1216 1287.6H1272.8" stroke="#000" stroke-width="1.7" fill="none"/>
<text x="1216" y="1273.3" font-size="15.8" text-anchor="middle" >0</text>
<text x="1265.3" y="1273.3" font-size="15.8" >50 km</text>
</svg>
</body></html>
